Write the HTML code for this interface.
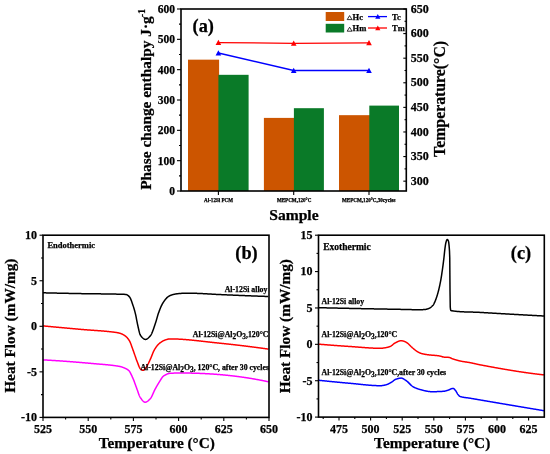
<!DOCTYPE html>
<html><head><meta charset="utf-8"><style>
html,body{margin:0;padding:0;background:#fff;}
svg{display:block;will-change:transform;}
text{font-family:"Liberation Serif", serif;font-weight:bold;fill:#000;stroke:#000;stroke-width:0.25px;}
</style></head><body>
<svg width="550" height="454" viewBox="0 0 550 454">
<rect width="550" height="454" fill="#fff"/>
<rect x="188.0" y="59.66" width="31.10" height="131.34" fill="#CC5500"/>
<rect x="218.4" y="74.82" width="30.20" height="116.18" fill="#0A7A28"/>
<rect x="263.9" y="117.90" width="30.70" height="73.10" fill="#CC5500"/>
<rect x="293.9" y="108.19" width="30.00" height="82.81" fill="#0A7A28"/>
<rect x="339.0" y="115.17" width="31.00" height="75.83" fill="#CC5500"/>
<rect x="369.3" y="105.61" width="29.70" height="85.39" fill="#0A7A28"/>
<line x1="177.00" y1="191.00" x2="181.00" y2="191.00" stroke="#000" stroke-width="1.1"/>
<text x="175.00" y="194.90" font-size="11.5" text-anchor="end" >0</text>
<line x1="177.00" y1="160.67" x2="181.00" y2="160.67" stroke="#000" stroke-width="1.1"/>
<text x="175.00" y="164.57" font-size="11.5" text-anchor="end" >100</text>
<line x1="177.00" y1="130.33" x2="181.00" y2="130.33" stroke="#000" stroke-width="1.1"/>
<text x="175.00" y="134.23" font-size="11.5" text-anchor="end" >200</text>
<line x1="177.00" y1="100.00" x2="181.00" y2="100.00" stroke="#000" stroke-width="1.1"/>
<text x="175.00" y="103.90" font-size="11.5" text-anchor="end" >300</text>
<line x1="177.00" y1="69.67" x2="181.00" y2="69.67" stroke="#000" stroke-width="1.1"/>
<text x="175.00" y="73.57" font-size="11.5" text-anchor="end" >400</text>
<line x1="177.00" y1="39.33" x2="181.00" y2="39.33" stroke="#000" stroke-width="1.1"/>
<text x="175.00" y="43.23" font-size="11.5" text-anchor="end" >500</text>
<line x1="177.00" y1="9.00" x2="181.00" y2="9.00" stroke="#000" stroke-width="1.1"/>
<text x="175.00" y="12.90" font-size="11.5" text-anchor="end" >600</text>
<line x1="179.00" y1="175.83" x2="181.00" y2="175.83" stroke="#000" stroke-width="1.1"/>
<line x1="179.00" y1="145.50" x2="181.00" y2="145.50" stroke="#000" stroke-width="1.1"/>
<line x1="179.00" y1="115.17" x2="181.00" y2="115.17" stroke="#000" stroke-width="1.1"/>
<line x1="179.00" y1="84.83" x2="181.00" y2="84.83" stroke="#000" stroke-width="1.1"/>
<line x1="179.00" y1="54.50" x2="181.00" y2="54.50" stroke="#000" stroke-width="1.1"/>
<line x1="179.00" y1="24.17" x2="181.00" y2="24.17" stroke="#000" stroke-width="1.1"/>
<line x1="403.30" y1="181.16" x2="406.30" y2="181.16" stroke="#000" stroke-width="1.1"/>
<text x="410.80" y="184.76" font-size="12" text-anchor="start" >300</text>
<line x1="403.30" y1="156.57" x2="406.30" y2="156.57" stroke="#000" stroke-width="1.1"/>
<text x="410.80" y="160.17" font-size="12" text-anchor="start" >350</text>
<line x1="403.30" y1="131.97" x2="406.30" y2="131.97" stroke="#000" stroke-width="1.1"/>
<text x="410.80" y="135.57" font-size="12" text-anchor="start" >400</text>
<line x1="403.30" y1="107.38" x2="406.30" y2="107.38" stroke="#000" stroke-width="1.1"/>
<text x="410.80" y="110.98" font-size="12" text-anchor="start" >450</text>
<line x1="403.30" y1="82.78" x2="406.30" y2="82.78" stroke="#000" stroke-width="1.1"/>
<text x="410.80" y="86.38" font-size="12" text-anchor="start" >500</text>
<line x1="403.30" y1="58.19" x2="406.30" y2="58.19" stroke="#000" stroke-width="1.1"/>
<text x="410.80" y="61.79" font-size="12" text-anchor="start" >550</text>
<line x1="403.30" y1="33.59" x2="406.30" y2="33.59" stroke="#000" stroke-width="1.1"/>
<text x="410.80" y="37.19" font-size="12" text-anchor="start" >600</text>
<line x1="403.30" y1="9.00" x2="406.30" y2="9.00" stroke="#000" stroke-width="1.1"/>
<text x="410.80" y="12.60" font-size="12" text-anchor="start" >650</text>
<line x1="404.50" y1="168.86" x2="406.30" y2="168.86" stroke="#000" stroke-width="1.1"/>
<line x1="404.50" y1="144.27" x2="406.30" y2="144.27" stroke="#000" stroke-width="1.1"/>
<line x1="404.50" y1="119.68" x2="406.30" y2="119.68" stroke="#000" stroke-width="1.1"/>
<line x1="404.50" y1="95.08" x2="406.30" y2="95.08" stroke="#000" stroke-width="1.1"/>
<line x1="404.50" y1="70.49" x2="406.30" y2="70.49" stroke="#000" stroke-width="1.1"/>
<line x1="404.50" y1="45.89" x2="406.30" y2="45.89" stroke="#000" stroke-width="1.1"/>
<line x1="404.50" y1="21.30" x2="406.30" y2="21.30" stroke="#000" stroke-width="1.1"/>
<line x1="218.40" y1="191.00" x2="218.40" y2="195.00" stroke="#000" stroke-width="1.1"/>
<line x1="293.70" y1="191.00" x2="293.70" y2="195.00" stroke="#000" stroke-width="1.1"/>
<line x1="369.00" y1="191.00" x2="369.00" y2="195.00" stroke="#000" stroke-width="1.1"/>
<polyline points="218.4,42.6 293.7,43.3 369.0,42.9" fill="none" stroke="#FF0000" stroke-width="1.35"/>
<polyline points="218.4,53.0 293.7,70.5 369.0,70.5" fill="none" stroke="#0000FF" stroke-width="1.35"/>
<path d="M215.60,44.98 L221.20,44.98 L218.40,39.80 Z" fill="#FF0000"/>
<path d="M290.90,45.68 L296.50,45.68 L293.70,40.50 Z" fill="#FF0000"/>
<path d="M366.20,45.28 L371.80,45.28 L369.00,40.10 Z" fill="#FF0000"/>
<path d="M215.60,55.38 L221.20,55.38 L218.40,50.20 Z" fill="#0000FF"/>
<path d="M290.90,72.88 L296.50,72.88 L293.70,67.70 Z" fill="#0000FF"/>
<path d="M366.20,72.88 L371.80,72.88 L369.00,67.70 Z" fill="#0000FF"/>
<rect x="181.0" y="9.0" width="225.3" height="182.0" fill="none" stroke="#000" stroke-width="1.6"/>
<rect x="325.7" y="12" width="18.5" height="9" fill="#CC5500"/>
<rect x="325.7" y="23.8" width="18.5" height="8.7" fill="#0A7A28"/>
<text x="352.60" y="19.80" font-size="8.5" text-anchor="start" >Hc</text>
<path d="M347.2,19.6 L352.0,19.6 L349.6,15.6 Z" fill="none" stroke="#000" stroke-width="0.8"/>
<text x="352.60" y="31.40" font-size="8.5" text-anchor="start" >Hm</text>
<path d="M347.2,31.2 L352.0,31.2 L349.6,27.2 Z" fill="none" stroke="#000" stroke-width="0.8"/>
<line x1="368.00" y1="16.60" x2="387.00" y2="16.60" stroke="#0000FF" stroke-width="1.3"/>
<path d="M375.20,18.81 L380.40,18.81 L377.80,14.00 Z" fill="#0000FF"/>
<line x1="368.00" y1="28.00" x2="387.00" y2="28.00" stroke="#FF0000" stroke-width="1.3"/>
<path d="M375.20,30.21 L380.40,30.21 L377.80,25.40 Z" fill="#FF0000"/>
<text x="392.00" y="19.80" font-size="8.5" text-anchor="start" >Tc</text>
<text x="392.00" y="31.40" font-size="8.5" text-anchor="start" >Tm</text>
<text x="192.60" y="31.60" font-size="18.3" text-anchor="start" >(a)</text>
<text x="218.60" y="201.60" font-size="5.1" text-anchor="middle" >Al-12Si PCM</text>
<text x="294.10" y="201.60" font-size="5.1" text-anchor="middle" >MEPCM,120&#176;C</text>
<text x="368.80" y="201.60" font-size="5.1" text-anchor="middle" >MEPCM,120&#176;C,30cycles</text>
<text x="293.90" y="219.80" font-size="15.6" text-anchor="middle" >Sample</text>
<text transform="translate(150.8,189.8) rotate(-90)" font-size="15.35">Phase change enthalpy J&#183;g<tspan font-size="9.4" dx="-0.6" dy="-5.6">-1</tspan></text>
<text transform="translate(445,156.9) rotate(-90)" font-size="15.8">Temperature(&#176;C)</text>
<line x1="39.50" y1="417.40" x2="43.00" y2="417.40" stroke="#000" stroke-width="1.1"/>
<text x="37.00" y="421.20" font-size="12" text-anchor="end" >-10</text>
<line x1="39.50" y1="371.85" x2="43.00" y2="371.85" stroke="#000" stroke-width="1.1"/>
<text x="37.00" y="375.65" font-size="12" text-anchor="end" >-5</text>
<line x1="39.50" y1="326.30" x2="43.00" y2="326.30" stroke="#000" stroke-width="1.1"/>
<text x="37.00" y="330.10" font-size="12" text-anchor="end" >0</text>
<line x1="39.50" y1="280.75" x2="43.00" y2="280.75" stroke="#000" stroke-width="1.1"/>
<text x="37.00" y="284.55" font-size="12" text-anchor="end" >5</text>
<line x1="39.50" y1="235.20" x2="43.00" y2="235.20" stroke="#000" stroke-width="1.1"/>
<text x="37.00" y="239.00" font-size="12" text-anchor="end" >10</text>
<line x1="41.00" y1="394.62" x2="43.00" y2="394.62" stroke="#000" stroke-width="1.1"/>
<line x1="41.00" y1="349.07" x2="43.00" y2="349.07" stroke="#000" stroke-width="1.1"/>
<line x1="41.00" y1="303.52" x2="43.00" y2="303.52" stroke="#000" stroke-width="1.1"/>
<line x1="41.00" y1="257.97" x2="43.00" y2="257.97" stroke="#000" stroke-width="1.1"/>
<line x1="43.00" y1="417.40" x2="43.00" y2="420.90" stroke="#000" stroke-width="1.1"/>
<text x="43.00" y="433.30" font-size="12" text-anchor="middle" >525</text>
<line x1="88.20" y1="417.40" x2="88.20" y2="420.90" stroke="#000" stroke-width="1.1"/>
<text x="88.20" y="433.30" font-size="12" text-anchor="middle" >550</text>
<line x1="133.40" y1="417.40" x2="133.40" y2="420.90" stroke="#000" stroke-width="1.1"/>
<text x="133.40" y="433.30" font-size="12" text-anchor="middle" >575</text>
<line x1="178.60" y1="417.40" x2="178.60" y2="420.90" stroke="#000" stroke-width="1.1"/>
<text x="178.60" y="433.30" font-size="12" text-anchor="middle" >600</text>
<line x1="223.80" y1="417.40" x2="223.80" y2="420.90" stroke="#000" stroke-width="1.1"/>
<text x="223.80" y="433.30" font-size="12" text-anchor="middle" >625</text>
<line x1="269.00" y1="417.40" x2="269.00" y2="420.90" stroke="#000" stroke-width="1.1"/>
<text x="269.00" y="433.30" font-size="12" text-anchor="middle" >650</text>
<line x1="65.60" y1="417.40" x2="65.60" y2="419.40" stroke="#000" stroke-width="1.1"/>
<line x1="110.80" y1="417.40" x2="110.80" y2="419.40" stroke="#000" stroke-width="1.1"/>
<line x1="156.00" y1="417.40" x2="156.00" y2="419.40" stroke="#000" stroke-width="1.1"/>
<line x1="201.20" y1="417.40" x2="201.20" y2="419.40" stroke="#000" stroke-width="1.1"/>
<line x1="246.40" y1="417.40" x2="246.40" y2="419.40" stroke="#000" stroke-width="1.1"/>
<path d="M43.00,292.80 L43.25,292.81 L43.50,292.81 L43.75,292.82 L44.00,292.82 L44.25,292.83 L44.50,292.84 L44.75,292.84 L45.00,292.85 L45.25,292.85 L45.50,292.86 L45.75,292.87 L46.00,292.87 L46.25,292.88 L46.50,292.88 L46.75,292.89 L47.00,292.90 L47.25,292.90 L47.50,292.91 L47.75,292.91 L48.00,292.92 L48.25,292.92 L48.50,292.93 L48.75,292.94 L49.00,292.94 L49.25,292.95 L49.50,292.95 L49.75,292.96 L50.00,292.97 L50.25,292.97 L50.50,292.98 L50.75,292.98 L51.00,292.99 L51.25,292.99 L51.50,293.00 L51.75,293.01 L52.00,293.01 L52.25,293.02 L52.50,293.02 L52.75,293.03 L53.00,293.04 L53.25,293.04 L53.50,293.05 L53.75,293.05 L54.00,293.06 L54.25,293.06 L54.50,293.07 L54.75,293.08 L55.00,293.08 L55.25,293.09 L55.50,293.09 L55.75,293.10 L56.00,293.10 L56.25,293.11 L56.50,293.11 L56.75,293.12 L57.00,293.13 L57.25,293.13 L57.50,293.14 L57.75,293.14 L58.00,293.15 L58.25,293.15 L58.50,293.16 L58.75,293.16 L59.00,293.17 L59.25,293.18 L59.50,293.18 L59.75,293.19 L60.00,293.19 L60.25,293.20 L60.50,293.20 L60.75,293.21 L61.00,293.21 L61.25,293.22 L61.50,293.23 L61.75,293.23 L62.00,293.24 L62.25,293.24 L62.50,293.25 L62.75,293.25 L63.00,293.26 L63.25,293.26 L63.50,293.27 L63.75,293.27 L64.00,293.28 L64.25,293.28 L64.50,293.29 L64.75,293.29 L65.00,293.30 L65.25,293.31 L65.50,293.31 L65.75,293.32 L66.00,293.32 L66.25,293.33 L66.50,293.33 L66.75,293.34 L67.00,293.34 L67.25,293.35 L67.50,293.35 L67.75,293.36 L68.00,293.36 L68.25,293.37 L68.50,293.37 L68.75,293.38 L69.00,293.38 L69.25,293.39 L69.50,293.39 L69.75,293.40 L70.00,293.40 L70.25,293.41 L70.50,293.41 L70.75,293.42 L71.00,293.42 L71.25,293.43 L71.50,293.43 L71.75,293.44 L72.00,293.44 L72.25,293.45 L72.50,293.45 L72.75,293.46 L73.00,293.46 L73.25,293.47 L73.50,293.47 L73.75,293.48 L74.00,293.48 L74.25,293.49 L74.50,293.49 L74.75,293.50 L75.00,293.50 L75.25,293.51 L75.50,293.51 L75.75,293.52 L76.00,293.52 L76.25,293.53 L76.50,293.53 L76.75,293.54 L77.00,293.54 L77.25,293.55 L77.50,293.55 L77.75,293.56 L78.00,293.56 L78.25,293.57 L78.50,293.57 L78.75,293.58 L79.00,293.58 L79.25,293.59 L79.50,293.59 L79.75,293.60 L80.00,293.60 L80.25,293.60 L80.50,293.61 L80.75,293.61 L81.00,293.62 L81.25,293.62 L81.50,293.63 L81.75,293.63 L82.00,293.64 L82.25,293.64 L82.50,293.64 L82.75,293.65 L83.00,293.65 L83.25,293.66 L83.50,293.66 L83.75,293.66 L84.00,293.67 L84.25,293.67 L84.50,293.68 L84.75,293.68 L85.00,293.68 L85.25,293.69 L85.50,293.69 L85.75,293.69 L86.00,293.70 L86.25,293.70 L86.50,293.70 L86.75,293.71 L87.00,293.71 L87.25,293.71 L87.50,293.72 L87.75,293.72 L88.00,293.72 L88.25,293.73 L88.50,293.73 L88.75,293.73 L89.00,293.74 L89.25,293.74 L89.50,293.74 L89.75,293.75 L90.00,293.75 L90.25,293.75 L90.50,293.76 L90.75,293.76 L91.00,293.76 L91.25,293.76 L91.50,293.77 L91.75,293.77 L92.00,293.77 L92.25,293.78 L92.50,293.78 L92.75,293.78 L93.00,293.79 L93.25,293.79 L93.50,293.79 L93.75,293.79 L94.00,293.80 L94.25,293.80 L94.50,293.80 L94.75,293.81 L95.00,293.81 L95.25,293.81 L95.50,293.81 L95.75,293.82 L96.00,293.82 L96.25,293.82 L96.50,293.82 L96.75,293.83 L97.00,293.83 L97.25,293.83 L97.50,293.84 L97.75,293.84 L98.00,293.84 L98.25,293.84 L98.50,293.85 L98.75,293.85 L99.00,293.85 L99.25,293.86 L99.50,293.86 L99.75,293.86 L100.00,293.86 L100.25,293.87 L100.50,293.87 L100.75,293.87 L101.00,293.88 L101.25,293.88 L101.50,293.88 L101.75,293.88 L102.00,293.89 L102.25,293.89 L102.50,293.89 L102.75,293.90 L103.00,293.90 L103.25,293.90 L103.50,293.91 L103.75,293.91 L104.00,293.91 L104.25,293.92 L104.50,293.92 L104.75,293.92 L105.00,293.93 L105.25,293.93 L105.50,293.93 L105.75,293.94 L106.00,293.94 L106.25,293.94 L106.50,293.95 L106.75,293.95 L107.00,293.95 L107.25,293.96 L107.50,293.96 L107.75,293.96 L108.00,293.97 L108.25,293.97 L108.50,293.98 L108.75,293.98 L109.00,293.98 L109.25,293.99 L109.50,293.99 L109.75,294.00 L110.00,294.00 L110.25,294.00 L110.50,294.01 L110.75,294.01 L111.00,294.02 L111.25,294.02 L111.50,294.03 L111.75,294.03 L112.00,294.04 L112.25,294.04 L112.50,294.04 L112.75,294.05 L113.00,294.05 L113.25,294.06 L113.50,294.06 L113.75,294.07 L114.00,294.07 L114.25,294.08 L114.50,294.08 L114.75,294.09 L115.00,294.09 L115.25,294.10 L115.50,294.11 L115.75,294.11 L116.00,294.12 L116.25,294.12 L116.50,294.13 L116.75,294.13 L117.00,294.14 L117.25,294.14 L117.50,294.15 L117.75,294.16 L118.00,294.16 L118.25,294.17 L118.50,294.18 L118.75,294.18 L119.00,294.19 L119.25,294.19 L119.50,294.20 L119.75,294.21 L120.00,294.21 L120.25,294.22 L120.50,294.23 L120.75,294.24 L121.00,294.24 L121.25,294.25 L121.50,294.26 L121.75,294.26 L122.00,294.27 L122.25,294.28 L122.50,294.29 L122.75,294.30 L123.00,294.30 L123.25,294.31 L123.50,294.32 L123.75,294.33 L124.00,294.34 L124.25,294.36 L124.50,294.37 L124.75,294.39 L125.00,294.40 L125.25,294.42 L125.50,294.45 L125.75,294.47 L126.00,294.50 L126.25,294.54 L126.50,294.61 L126.75,294.70 L127.00,294.82 L127.25,294.95 L127.50,295.11 L127.75,295.28 L128.00,295.47 L128.25,295.68 L128.50,295.90 L128.75,296.13 L129.00,296.38 L129.25,296.64 L129.50,296.90 L129.75,297.21 L130.00,297.59 L130.25,298.04 L130.50,298.56 L130.75,299.12 L131.00,299.73 L131.25,300.38 L131.50,301.06 L131.75,301.77 L132.00,302.49 L132.25,303.21 L132.50,303.94 L132.75,304.66 L133.00,305.38 L133.25,306.12 L133.50,306.89 L133.75,307.69 L134.00,308.51 L134.25,309.37 L134.50,310.25 L134.75,311.17 L135.00,312.11 L135.25,313.09 L135.50,314.10 L135.75,315.20 L136.00,316.41 L136.25,317.69 L136.50,319.03 L136.75,320.38 L137.00,321.70 L137.25,322.98 L137.50,324.16 L137.75,325.25 L138.00,326.37 L138.25,327.51 L138.50,328.65 L138.75,329.77 L139.00,330.84 L139.25,331.86 L139.50,332.81 L139.75,333.65 L140.00,334.38 L140.25,334.97 L140.50,335.40 L140.75,335.74 L141.00,336.08 L141.25,336.40 L141.50,336.71 L141.75,337.01 L142.00,337.29 L142.25,337.56 L142.50,337.81 L142.75,338.05 L143.00,338.27 L143.25,338.48 L143.50,338.66 L143.75,338.83 L144.00,338.98 L144.25,339.10 L144.50,339.21 L144.75,339.29 L145.00,339.35 L145.25,339.39 L145.50,339.40 L145.75,339.39 L146.00,339.35 L146.25,339.28 L146.50,339.19 L146.75,339.08 L147.00,338.95 L147.25,338.79 L147.50,338.62 L147.75,338.43 L148.00,338.23 L148.25,338.01 L148.50,337.78 L148.75,337.53 L149.00,337.28 L149.25,337.02 L149.50,336.74 L149.75,336.46 L150.00,336.18 L150.25,335.89 L150.50,335.60 L150.75,335.28 L151.00,334.90 L151.25,334.47 L151.50,334.00 L151.75,333.48 L152.00,332.92 L152.25,332.32 L152.50,331.69 L152.75,331.04 L153.00,330.35 L153.25,329.65 L153.50,328.93 L153.75,328.20 L154.00,327.46 L154.25,326.71 L154.50,325.96 L154.75,325.21 L155.00,324.47 L155.25,323.73 L155.50,323.01 L155.75,322.25 L156.00,321.44 L156.25,320.61 L156.50,319.75 L156.75,318.88 L157.00,318.00 L157.25,317.12 L157.50,316.25 L157.75,315.41 L158.00,314.59 L158.25,313.81 L158.50,313.08 L158.75,312.39 L159.00,311.71 L159.25,311.04 L159.50,310.38 L159.75,309.72 L160.00,309.08 L160.25,308.46 L160.50,307.84 L160.75,307.25 L161.00,306.67 L161.25,306.11 L161.50,305.57 L161.75,305.06 L162.00,304.57 L162.25,304.10 L162.50,303.67 L162.75,303.25 L163.00,302.85 L163.25,302.45 L163.50,302.07 L163.75,301.69 L164.00,301.32 L164.25,300.95 L164.50,300.60 L164.75,300.26 L165.00,299.92 L165.25,299.60 L165.50,299.29 L165.75,298.98 L166.00,298.69 L166.25,298.42 L166.50,298.15 L166.75,297.90 L167.00,297.65 L167.25,297.43 L167.50,297.21 L167.75,297.01 L168.00,296.83 L168.25,296.65 L168.50,296.48 L168.75,296.32 L169.00,296.17 L169.25,296.02 L169.50,295.88 L169.75,295.75 L170.00,295.63 L170.25,295.51 L170.50,295.40 L170.75,295.30 L171.00,295.20 L171.25,295.11 L171.50,295.02 L171.75,294.93 L172.00,294.85 L172.25,294.77 L172.50,294.69 L172.75,294.62 L173.00,294.55 L173.25,294.48 L173.50,294.42 L173.75,294.36 L174.00,294.30 L174.25,294.25 L174.50,294.20 L174.75,294.15 L175.00,294.11 L175.25,294.06 L175.50,294.02 L175.75,293.98 L176.00,293.94 L176.25,293.90 L176.50,293.86 L176.75,293.82 L177.00,293.79 L177.25,293.75 L177.50,293.72 L177.75,293.69 L178.00,293.66 L178.25,293.63 L178.50,293.61 L178.75,293.58 L179.00,293.56 L179.25,293.53 L179.50,293.51 L179.75,293.50 L180.00,293.48 L180.25,293.46 L180.50,293.44 L180.75,293.43 L181.00,293.41 L181.25,293.39 L181.50,293.37 L181.75,293.36 L182.00,293.34 L182.25,293.33 L182.50,293.31 L182.75,293.30 L183.00,293.29 L183.25,293.27 L183.50,293.26 L183.75,293.25 L184.00,293.24 L184.25,293.23 L184.50,293.22 L184.75,293.22 L185.00,293.21 L185.25,293.21 L185.50,293.20 L185.75,293.20 L186.00,293.20 L186.25,293.20 L186.50,293.20 L186.75,293.20 L187.00,293.20 L187.25,293.20 L187.50,293.20 L187.75,293.21 L188.00,293.21 L188.25,293.21 L188.50,293.21 L188.75,293.22 L189.00,293.22 L189.25,293.22 L189.50,293.22 L189.75,293.23 L190.00,293.23 L190.25,293.23 L190.50,293.24 L190.75,293.24 L191.00,293.25 L191.25,293.25 L191.50,293.25 L191.75,293.26 L192.00,293.26 L192.25,293.27 L192.50,293.27 L192.75,293.27 L193.00,293.28 L193.25,293.28 L193.50,293.29 L193.75,293.29 L194.00,293.30 L194.25,293.30 L194.50,293.31 L194.75,293.31 L195.00,293.32 L195.25,293.32 L195.50,293.33 L195.75,293.33 L196.00,293.34 L196.25,293.35 L196.50,293.35 L196.75,293.36 L197.00,293.37 L197.25,293.38 L197.50,293.39 L197.75,293.40 L198.00,293.40 L198.25,293.41 L198.50,293.42 L198.75,293.43 L199.00,293.44 L199.25,293.45 L199.50,293.46 L199.75,293.47 L200.00,293.48 L200.25,293.50 L200.50,293.51 L200.75,293.52 L201.00,293.53 L201.25,293.54 L201.50,293.55 L201.75,293.57 L202.00,293.58 L202.25,293.59 L202.50,293.60 L202.75,293.62 L203.00,293.63 L203.25,293.64 L203.50,293.66 L203.75,293.67 L204.00,293.68 L204.25,293.70 L204.50,293.71 L204.75,293.73 L205.00,293.74 L205.25,293.75 L205.50,293.77 L205.75,293.78 L206.00,293.80 L206.25,293.81 L206.50,293.83 L206.75,293.84 L207.00,293.86 L207.25,293.87 L207.50,293.89 L207.75,293.90 L208.00,293.92 L208.25,293.93 L208.50,293.95 L208.75,293.96 L209.00,293.98 L209.25,293.99 L209.50,294.01 L209.75,294.02 L210.00,294.04 L210.25,294.05 L210.50,294.07 L210.75,294.08 L211.00,294.10 L211.25,294.11 L211.50,294.12 L211.75,294.14 L212.00,294.15 L212.25,294.17 L212.50,294.18 L212.75,294.20 L213.00,294.21 L213.25,294.23 L213.50,294.24 L213.75,294.26 L214.00,294.27 L214.25,294.28 L214.50,294.30 L214.75,294.31 L215.00,294.33 L215.25,294.34 L215.50,294.35 L215.75,294.37 L216.00,294.38 L216.25,294.39 L216.50,294.40 L216.75,294.42 L217.00,294.43 L217.25,294.44 L217.50,294.45 L217.75,294.47 L218.00,294.48 L218.25,294.49 L218.50,294.50 L218.75,294.51 L219.00,294.52 L219.25,294.53 L219.50,294.54 L219.75,294.56 L220.00,294.57 L220.25,294.58 L220.50,294.59 L220.75,294.60 L221.00,294.61 L221.25,294.62 L221.50,294.63 L221.75,294.65 L222.00,294.66 L222.25,294.67 L222.50,294.68 L222.75,294.69 L223.00,294.70 L223.25,294.71 L223.50,294.72 L223.75,294.73 L224.00,294.74 L224.25,294.76 L224.50,294.77 L224.75,294.78 L225.00,294.79 L225.25,294.80 L225.50,294.81 L225.75,294.82 L226.00,294.83 L226.25,294.84 L226.50,294.85 L226.75,294.87 L227.00,294.88 L227.25,294.89 L227.50,294.90 L227.75,294.91 L228.00,294.92 L228.25,294.93 L228.50,294.94 L228.75,294.95 L229.00,294.96 L229.25,294.97 L229.50,294.99 L229.75,295.00 L230.00,295.01 L230.25,295.02 L230.50,295.03 L230.75,295.04 L231.00,295.05 L231.25,295.06 L231.50,295.07 L231.75,295.08 L232.00,295.09 L232.25,295.10 L232.50,295.11 L232.75,295.12 L233.00,295.14 L233.25,295.15 L233.50,295.16 L233.75,295.17 L234.00,295.18 L234.25,295.19 L234.50,295.20 L234.75,295.21 L235.00,295.22 L235.25,295.23 L235.50,295.24 L235.75,295.25 L236.00,295.26 L236.25,295.27 L236.50,295.28 L236.75,295.29 L237.00,295.30 L237.25,295.32 L237.50,295.33 L237.75,295.34 L238.00,295.35 L238.25,295.36 L238.50,295.37 L238.75,295.38 L239.00,295.39 L239.25,295.40 L239.50,295.41 L239.75,295.42 L240.00,295.43 L240.25,295.44 L240.50,295.45 L240.75,295.46 L241.00,295.47 L241.25,295.48 L241.50,295.49 L241.75,295.50 L242.00,295.51 L242.25,295.52 L242.50,295.53 L242.75,295.54 L243.00,295.55 L243.25,295.56 L243.50,295.57 L243.75,295.58 L244.00,295.59 L244.25,295.60 L244.50,295.61 L244.75,295.62 L245.00,295.63 L245.25,295.64 L245.50,295.65 L245.75,295.66 L246.00,295.67 L246.25,295.68 L246.50,295.69 L246.75,295.70 L247.00,295.71 L247.25,295.72 L247.50,295.73 L247.75,295.74 L248.00,295.75 L248.25,295.76 L248.50,295.77 L248.75,295.78 L249.00,295.79 L249.25,295.80 L249.50,295.81 L249.75,295.82 L250.00,295.83 L250.25,295.84 L250.50,295.85 L250.75,295.86 L251.00,295.87 L251.25,295.88 L251.50,295.89 L251.75,295.90 L252.00,295.91 L252.25,295.92 L252.50,295.93 L252.75,295.94 L253.00,295.95 L253.25,295.96 L253.50,295.97 L253.75,295.98 L254.00,295.99 L254.25,296.00 L254.50,296.01 L254.75,296.01 L255.00,296.02 L255.25,296.03 L255.50,296.04 L255.75,296.05 L256.00,296.06 L256.25,296.07 L256.50,296.08 L256.75,296.09 L257.00,296.10 L257.25,296.11 L257.50,296.12 L257.75,296.13 L258.00,296.14 L258.25,296.15 L258.50,296.16 L258.75,296.16 L259.00,296.17 L259.25,296.18 L259.50,296.19 L259.75,296.20 L260.00,296.21 L260.25,296.22 L260.50,296.23 L260.75,296.24 L261.00,296.25 L261.25,296.26 L261.50,296.26 L261.75,296.27 L262.00,296.28 L262.25,296.29 L262.50,296.30 L262.75,296.31 L263.00,296.32 L263.25,296.33 L263.50,296.34 L263.75,296.35 L264.00,296.35 L264.25,296.36 L264.50,296.37 L264.75,296.38 L265.00,296.39 L265.25,296.40 L265.50,296.41 L265.75,296.42 L266.00,296.42 L266.25,296.43 L266.50,296.44 L266.75,296.45 L267.00,296.46 L267.25,296.47 L267.50,296.48 L267.75,296.48 L268.00,296.49 L268.20,296.50" fill="none" stroke="#000000" stroke-width="1.5" stroke-linejoin="round"/>
<path d="M43.00,325.90 L43.25,325.92 L43.50,325.95 L43.75,325.97 L44.00,325.99 L44.25,326.02 L44.50,326.04 L44.75,326.06 L45.00,326.09 L45.25,326.11 L45.50,326.13 L45.75,326.16 L46.00,326.18 L46.25,326.20 L46.50,326.23 L46.75,326.25 L47.00,326.27 L47.25,326.30 L47.50,326.32 L47.75,326.34 L48.00,326.37 L48.25,326.39 L48.50,326.41 L48.75,326.44 L49.00,326.46 L49.25,326.48 L49.50,326.51 L49.75,326.53 L50.00,326.55 L50.25,326.58 L50.50,326.60 L50.75,326.62 L51.00,326.65 L51.25,326.67 L51.50,326.69 L51.75,326.72 L52.00,326.74 L52.25,326.76 L52.50,326.79 L52.75,326.81 L53.00,326.83 L53.25,326.86 L53.50,326.88 L53.75,326.90 L54.00,326.93 L54.25,326.95 L54.50,326.97 L54.75,327.00 L55.00,327.02 L55.25,327.04 L55.50,327.07 L55.75,327.09 L56.00,327.11 L56.25,327.13 L56.50,327.16 L56.75,327.18 L57.00,327.20 L57.25,327.23 L57.50,327.25 L57.75,327.27 L58.00,327.30 L58.25,327.32 L58.50,327.34 L58.75,327.37 L59.00,327.39 L59.25,327.41 L59.50,327.43 L59.75,327.46 L60.00,327.48 L60.25,327.50 L60.50,327.53 L60.75,327.55 L61.00,327.57 L61.25,327.60 L61.50,327.62 L61.75,327.64 L62.00,327.66 L62.25,327.69 L62.50,327.71 L62.75,327.73 L63.00,327.76 L63.25,327.78 L63.50,327.80 L63.75,327.83 L64.00,327.85 L64.25,327.87 L64.50,327.89 L64.75,327.92 L65.00,327.94 L65.25,327.96 L65.50,327.99 L65.75,328.01 L66.00,328.03 L66.25,328.05 L66.50,328.08 L66.75,328.10 L67.00,328.12 L67.25,328.15 L67.50,328.17 L67.75,328.19 L68.00,328.21 L68.25,328.24 L68.50,328.26 L68.75,328.28 L69.00,328.30 L69.25,328.33 L69.50,328.35 L69.75,328.37 L70.00,328.40 L70.25,328.42 L70.50,328.44 L70.75,328.46 L71.00,328.49 L71.25,328.51 L71.50,328.53 L71.75,328.55 L72.00,328.58 L72.25,328.60 L72.50,328.62 L72.75,328.65 L73.00,328.67 L73.25,328.69 L73.50,328.71 L73.75,328.74 L74.00,328.76 L74.25,328.78 L74.50,328.80 L74.75,328.83 L75.00,328.85 L75.25,328.87 L75.50,328.89 L75.75,328.92 L76.00,328.94 L76.25,328.96 L76.50,328.98 L76.75,329.01 L77.00,329.03 L77.25,329.05 L77.50,329.08 L77.75,329.10 L78.00,329.12 L78.25,329.14 L78.50,329.17 L78.75,329.19 L79.00,329.21 L79.25,329.23 L79.50,329.26 L79.75,329.28 L80.00,329.30 L80.25,329.32 L80.50,329.34 L80.75,329.37 L81.00,329.39 L81.25,329.41 L81.50,329.43 L81.75,329.45 L82.00,329.47 L82.25,329.49 L82.50,329.52 L82.75,329.54 L83.00,329.56 L83.25,329.58 L83.50,329.60 L83.75,329.62 L84.00,329.64 L84.25,329.66 L84.50,329.68 L84.75,329.69 L85.00,329.71 L85.25,329.73 L85.50,329.75 L85.75,329.77 L86.00,329.79 L86.25,329.81 L86.50,329.83 L86.75,329.85 L87.00,329.86 L87.25,329.88 L87.50,329.90 L87.75,329.92 L88.00,329.94 L88.25,329.96 L88.50,329.97 L88.75,329.99 L89.00,330.01 L89.25,330.03 L89.50,330.04 L89.75,330.06 L90.00,330.08 L90.25,330.10 L90.50,330.11 L90.75,330.13 L91.00,330.15 L91.25,330.17 L91.50,330.18 L91.75,330.20 L92.00,330.22 L92.25,330.24 L92.50,330.25 L92.75,330.27 L93.00,330.29 L93.25,330.31 L93.50,330.32 L93.75,330.34 L94.00,330.36 L94.25,330.38 L94.50,330.39 L94.75,330.41 L95.00,330.43 L95.25,330.45 L95.50,330.46 L95.75,330.48 L96.00,330.50 L96.25,330.52 L96.50,330.54 L96.75,330.55 L97.00,330.57 L97.25,330.59 L97.50,330.61 L97.75,330.63 L98.00,330.64 L98.25,330.66 L98.50,330.68 L98.75,330.70 L99.00,330.72 L99.25,330.74 L99.50,330.76 L99.75,330.77 L100.00,330.79 L100.25,330.81 L100.50,330.83 L100.75,330.85 L101.00,330.87 L101.25,330.89 L101.50,330.91 L101.75,330.93 L102.00,330.95 L102.25,330.97 L102.50,330.99 L102.75,331.01 L103.00,331.03 L103.25,331.05 L103.50,331.08 L103.75,331.10 L104.00,331.12 L104.25,331.14 L104.50,331.16 L104.75,331.18 L105.00,331.21 L105.25,331.23 L105.50,331.25 L105.75,331.27 L106.00,331.30 L106.25,331.32 L106.50,331.34 L106.75,331.37 L107.00,331.39 L107.25,331.42 L107.50,331.44 L107.75,331.47 L108.00,331.49 L108.25,331.52 L108.50,331.54 L108.75,331.57 L109.00,331.59 L109.25,331.62 L109.50,331.65 L109.75,331.67 L110.00,331.70 L110.25,331.73 L110.50,331.76 L110.75,331.78 L111.00,331.81 L111.25,331.84 L111.50,331.87 L111.75,331.90 L112.00,331.93 L112.25,331.96 L112.50,331.99 L112.75,332.02 L113.00,332.05 L113.25,332.08 L113.50,332.11 L113.75,332.14 L114.00,332.17 L114.25,332.21 L114.50,332.24 L114.75,332.27 L115.00,332.31 L115.25,332.34 L115.50,332.37 L115.75,332.41 L116.00,332.44 L116.25,332.48 L116.50,332.51 L116.75,332.55 L117.00,332.59 L117.25,332.64 L117.50,332.68 L117.75,332.73 L118.00,332.78 L118.25,332.84 L118.50,332.90 L118.75,332.96 L119.00,333.02 L119.25,333.09 L119.50,333.15 L119.75,333.23 L120.00,333.30 L120.25,333.38 L120.50,333.46 L120.75,333.55 L121.00,333.64 L121.25,333.74 L121.50,333.84 L121.75,333.95 L122.00,334.06 L122.25,334.18 L122.50,334.30 L122.75,334.42 L123.00,334.56 L123.25,334.69 L123.50,334.83 L123.75,334.98 L124.00,335.13 L124.25,335.29 L124.50,335.45 L124.75,335.62 L125.00,335.79 L125.25,335.96 L125.50,336.15 L125.75,336.35 L126.00,336.56 L126.25,336.78 L126.50,337.02 L126.75,337.27 L127.00,337.53 L127.25,337.81 L127.50,338.10 L127.75,338.41 L128.00,338.72 L128.25,339.06 L128.50,339.40 L128.75,339.76 L129.00,340.13 L129.25,340.52 L129.50,340.93 L129.75,341.40 L130.00,341.92 L130.25,342.47 L130.50,343.07 L130.75,343.69 L131.00,344.35 L131.25,345.03 L131.50,345.72 L131.75,346.43 L132.00,347.14 L132.25,347.85 L132.50,348.57 L132.75,349.27 L133.00,349.96 L133.25,350.63 L133.50,351.31 L133.75,352.01 L134.00,352.71 L134.25,353.43 L134.50,354.15 L134.75,354.88 L135.00,355.62 L135.25,356.35 L135.50,357.07 L135.75,357.79 L136.00,358.50 L136.25,359.20 L136.50,359.89 L136.75,360.55 L137.00,361.20 L137.25,361.82 L137.50,362.46 L137.75,363.12 L138.00,363.79 L138.25,364.47 L138.50,365.13 L138.75,365.78 L139.00,366.41 L139.25,366.99 L139.50,367.53 L139.75,368.01 L140.00,368.42 L140.25,368.75 L140.50,369.00 L140.75,369.20 L141.00,369.39 L141.25,369.56 L141.50,369.73 L141.75,369.88 L142.00,370.01 L142.25,370.12 L142.50,370.21 L142.75,370.27 L143.00,370.30 L143.25,370.29 L143.50,370.22 L143.75,370.10 L144.00,369.93 L144.25,369.72 L144.50,369.47 L144.75,369.19 L145.00,368.89 L145.25,368.56 L145.50,368.23 L145.75,367.88 L146.00,367.54 L146.25,367.20 L146.50,366.87 L146.75,366.51 L147.00,366.11 L147.25,365.69 L147.50,365.24 L147.75,364.77 L148.00,364.28 L148.25,363.77 L148.50,363.25 L148.75,362.71 L149.00,362.17 L149.25,361.62 L149.50,361.07 L149.75,360.52 L150.00,359.97 L150.25,359.42 L150.50,358.88 L150.75,358.32 L151.00,357.74 L151.25,357.13 L151.50,356.51 L151.75,355.87 L152.00,355.23 L152.25,354.60 L152.50,353.96 L152.75,353.34 L153.00,352.72 L153.25,352.13 L153.50,351.56 L153.75,351.03 L154.00,350.52 L154.25,350.06 L154.50,349.63 L154.75,349.22 L155.00,348.82 L155.25,348.43 L155.50,348.04 L155.75,347.66 L156.00,347.30 L156.25,346.94 L156.50,346.59 L156.75,346.25 L157.00,345.92 L157.25,345.60 L157.50,345.29 L157.75,345.00 L158.00,344.71 L158.25,344.44 L158.50,344.18 L158.75,343.93 L159.00,343.70 L159.25,343.48 L159.50,343.28 L159.75,343.09 L160.00,342.90 L160.25,342.71 L160.50,342.53 L160.75,342.36 L161.00,342.18 L161.25,342.01 L161.50,341.85 L161.75,341.69 L162.00,341.53 L162.25,341.38 L162.50,341.23 L162.75,341.09 L163.00,340.95 L163.25,340.82 L163.50,340.69 L163.75,340.57 L164.00,340.45 L164.25,340.33 L164.50,340.23 L164.75,340.12 L165.00,340.02 L165.25,339.93 L165.50,339.84 L165.75,339.76 L166.00,339.68 L166.25,339.61 L166.50,339.55 L166.75,339.48 L167.00,339.41 L167.25,339.34 L167.50,339.28 L167.75,339.22 L168.00,339.16 L168.25,339.10 L168.50,339.06 L168.75,339.01 L169.00,338.97 L169.25,338.94 L169.50,338.92 L169.75,338.90 L170.00,338.90 L170.25,338.90 L170.50,338.90 L170.75,338.90 L171.00,338.90 L171.25,338.91 L171.50,338.91 L171.75,338.91 L172.00,338.91 L172.25,338.92 L172.50,338.92 L172.75,338.92 L173.00,338.93 L173.25,338.93 L173.50,338.94 L173.75,338.94 L174.00,338.95 L174.25,338.96 L174.50,338.96 L174.75,338.97 L175.00,338.98 L175.25,338.99 L175.50,338.99 L175.75,339.00 L176.00,339.01 L176.25,339.02 L176.50,339.03 L176.75,339.04 L177.00,339.05 L177.25,339.06 L177.50,339.07 L177.75,339.08 L178.00,339.09 L178.25,339.10 L178.50,339.12 L178.75,339.13 L179.00,339.14 L179.25,339.15 L179.50,339.17 L179.75,339.18 L180.00,339.19 L180.25,339.21 L180.50,339.22 L180.75,339.24 L181.00,339.25 L181.25,339.27 L181.50,339.28 L181.75,339.30 L182.00,339.32 L182.25,339.33 L182.50,339.35 L182.75,339.37 L183.00,339.38 L183.25,339.40 L183.50,339.42 L183.75,339.44 L184.00,339.45 L184.25,339.47 L184.50,339.49 L184.75,339.51 L185.00,339.53 L185.25,339.55 L185.50,339.57 L185.75,339.59 L186.00,339.61 L186.25,339.63 L186.50,339.65 L186.75,339.67 L187.00,339.69 L187.25,339.71 L187.50,339.73 L187.75,339.75 L188.00,339.78 L188.25,339.80 L188.50,339.82 L188.75,339.84 L189.00,339.86 L189.25,339.89 L189.50,339.91 L189.75,339.93 L190.00,339.96 L190.25,339.98 L190.50,340.00 L190.75,340.03 L191.00,340.05 L191.25,340.08 L191.50,340.10 L191.75,340.12 L192.00,340.15 L192.25,340.17 L192.50,340.20 L192.75,340.22 L193.00,340.25 L193.25,340.27 L193.50,340.30 L193.75,340.32 L194.00,340.35 L194.25,340.38 L194.50,340.40 L194.75,340.43 L195.00,340.45 L195.25,340.48 L195.50,340.51 L195.75,340.53 L196.00,340.56 L196.25,340.59 L196.50,340.61 L196.75,340.64 L197.00,340.67 L197.25,340.70 L197.50,340.72 L197.75,340.75 L198.00,340.78 L198.25,340.81 L198.50,340.83 L198.75,340.86 L199.00,340.89 L199.25,340.92 L199.50,340.94 L199.75,340.97 L200.00,341.00 L200.25,341.03 L200.50,341.06 L200.75,341.08 L201.00,341.11 L201.25,341.14 L201.50,341.17 L201.75,341.20 L202.00,341.23 L202.25,341.25 L202.50,341.28 L202.75,341.31 L203.00,341.34 L203.25,341.37 L203.50,341.40 L203.75,341.43 L204.00,341.46 L204.25,341.48 L204.50,341.51 L204.75,341.54 L205.00,341.57 L205.25,341.60 L205.50,341.63 L205.75,341.66 L206.00,341.68 L206.25,341.71 L206.50,341.74 L206.75,341.77 L207.00,341.80 L207.25,341.83 L207.50,341.86 L207.75,341.89 L208.00,341.91 L208.25,341.94 L208.50,341.97 L208.75,342.00 L209.00,342.03 L209.25,342.06 L209.50,342.08 L209.75,342.11 L210.00,342.14 L210.25,342.17 L210.50,342.20 L210.75,342.23 L211.00,342.25 L211.25,342.28 L211.50,342.31 L211.75,342.34 L212.00,342.36 L212.25,342.39 L212.50,342.42 L212.75,342.45 L213.00,342.47 L213.25,342.50 L213.50,342.53 L213.75,342.56 L214.00,342.58 L214.25,342.61 L214.50,342.64 L214.75,342.66 L215.00,342.69 L215.25,342.72 L215.50,342.74 L215.75,342.77 L216.00,342.80 L216.25,342.82 L216.50,342.85 L216.75,342.87 L217.00,342.90 L217.25,342.92 L217.50,342.95 L217.75,342.97 L218.00,343.00 L218.25,343.03 L218.50,343.05 L218.75,343.08 L219.00,343.10 L219.25,343.13 L219.50,343.15 L219.75,343.18 L220.00,343.20 L220.25,343.23 L220.50,343.25 L220.75,343.28 L221.00,343.30 L221.25,343.33 L221.50,343.36 L221.75,343.38 L222.00,343.41 L222.25,343.43 L222.50,343.46 L222.75,343.49 L223.00,343.51 L223.25,343.54 L223.50,343.56 L223.75,343.59 L224.00,343.62 L224.25,343.64 L224.50,343.67 L224.75,343.70 L225.00,343.72 L225.25,343.75 L225.50,343.78 L225.75,343.80 L226.00,343.83 L226.25,343.86 L226.50,343.88 L226.75,343.91 L227.00,343.94 L227.25,343.96 L227.50,343.99 L227.75,344.02 L228.00,344.04 L228.25,344.07 L228.50,344.10 L228.75,344.13 L229.00,344.15 L229.25,344.18 L229.50,344.21 L229.75,344.24 L230.00,344.26 L230.25,344.29 L230.50,344.32 L230.75,344.35 L231.00,344.38 L231.25,344.40 L231.50,344.43 L231.75,344.46 L232.00,344.49 L232.25,344.52 L232.50,344.54 L232.75,344.57 L233.00,344.60 L233.25,344.63 L233.50,344.66 L233.75,344.69 L234.00,344.71 L234.25,344.74 L234.50,344.77 L234.75,344.80 L235.00,344.83 L235.25,344.86 L235.50,344.89 L235.75,344.91 L236.00,344.94 L236.25,344.97 L236.50,345.00 L236.75,345.03 L237.00,345.06 L237.25,345.09 L237.50,345.12 L237.75,345.15 L238.00,345.18 L238.25,345.21 L238.50,345.24 L238.75,345.27 L239.00,345.29 L239.25,345.32 L239.50,345.35 L239.75,345.38 L240.00,345.41 L240.25,345.44 L240.50,345.47 L240.75,345.50 L241.00,345.53 L241.25,345.56 L241.50,345.59 L241.75,345.62 L242.00,345.65 L242.25,345.68 L242.50,345.71 L242.75,345.74 L243.00,345.77 L243.25,345.80 L243.50,345.83 L243.75,345.86 L244.00,345.90 L244.25,345.93 L244.50,345.96 L244.75,345.99 L245.00,346.02 L245.25,346.05 L245.50,346.08 L245.75,346.11 L246.00,346.14 L246.25,346.17 L246.50,346.20 L246.75,346.23 L247.00,346.26 L247.25,346.30 L247.50,346.33 L247.75,346.36 L248.00,346.39 L248.25,346.42 L248.50,346.45 L248.75,346.48 L249.00,346.51 L249.25,346.55 L249.50,346.58 L249.75,346.61 L250.00,346.64 L250.25,346.67 L250.50,346.70 L250.75,346.74 L251.00,346.77 L251.25,346.80 L251.50,346.83 L251.75,346.86 L252.00,346.90 L252.25,346.93 L252.50,346.96 L252.75,346.99 L253.00,347.02 L253.25,347.06 L253.50,347.09 L253.75,347.12 L254.00,347.15 L254.25,347.19 L254.50,347.22 L254.75,347.25 L255.00,347.28 L255.25,347.32 L255.50,347.35 L255.75,347.38 L256.00,347.41 L256.25,347.45 L256.50,347.48 L256.75,347.51 L257.00,347.54 L257.25,347.58 L257.50,347.61 L257.75,347.64 L258.00,347.68 L258.25,347.71 L258.50,347.74 L258.75,347.78 L259.00,347.81 L259.25,347.84 L259.50,347.88 L259.75,347.91 L260.00,347.94 L260.25,347.98 L260.50,348.01 L260.75,348.04 L261.00,348.08 L261.25,348.11 L261.50,348.14 L261.75,348.18 L262.00,348.21 L262.25,348.24 L262.50,348.28 L262.75,348.31 L263.00,348.35 L263.25,348.38 L263.50,348.41 L263.75,348.45 L264.00,348.48 L264.25,348.52 L264.50,348.55 L264.75,348.58 L265.00,348.62 L265.25,348.65 L265.50,348.69 L265.75,348.72 L266.00,348.75 L266.25,348.79 L266.50,348.82 L266.75,348.86 L267.00,348.89 L267.25,348.93 L267.50,348.96 L267.75,349.00 L268.00,349.03 L268.25,349.07 L268.50,349.10" fill="none" stroke="#FF0000" stroke-width="1.5" stroke-linejoin="round"/>
<path d="M43.00,359.90 L43.25,359.91 L43.50,359.93 L43.75,359.94 L44.00,359.95 L44.25,359.96 L44.50,359.98 L44.75,359.99 L45.00,360.00 L45.25,360.01 L45.50,360.03 L45.75,360.04 L46.00,360.05 L46.25,360.07 L46.50,360.08 L46.75,360.09 L47.00,360.11 L47.25,360.12 L47.50,360.14 L47.75,360.15 L48.00,360.16 L48.25,360.18 L48.50,360.19 L48.75,360.21 L49.00,360.22 L49.25,360.23 L49.50,360.25 L49.75,360.26 L50.00,360.28 L50.25,360.29 L50.50,360.31 L50.75,360.32 L51.00,360.34 L51.25,360.35 L51.50,360.37 L51.75,360.38 L52.00,360.40 L52.25,360.41 L52.50,360.43 L52.75,360.44 L53.00,360.46 L53.25,360.47 L53.50,360.49 L53.75,360.50 L54.00,360.52 L54.25,360.53 L54.50,360.55 L54.75,360.56 L55.00,360.58 L55.25,360.60 L55.50,360.61 L55.75,360.63 L56.00,360.64 L56.25,360.66 L56.50,360.68 L56.75,360.69 L57.00,360.71 L57.25,360.72 L57.50,360.74 L57.75,360.76 L58.00,360.77 L58.25,360.79 L58.50,360.81 L58.75,360.82 L59.00,360.84 L59.25,360.86 L59.50,360.87 L59.75,360.89 L60.00,360.91 L60.25,360.93 L60.50,360.94 L60.75,360.96 L61.00,360.98 L61.25,360.99 L61.50,361.01 L61.75,361.03 L62.00,361.05 L62.25,361.06 L62.50,361.08 L62.75,361.10 L63.00,361.12 L63.25,361.13 L63.50,361.15 L63.75,361.17 L64.00,361.19 L64.25,361.21 L64.50,361.22 L64.75,361.24 L65.00,361.26 L65.25,361.28 L65.50,361.30 L65.75,361.32 L66.00,361.33 L66.25,361.35 L66.50,361.37 L66.75,361.39 L67.00,361.41 L67.25,361.43 L67.50,361.44 L67.75,361.46 L68.00,361.48 L68.25,361.50 L68.50,361.52 L68.75,361.54 L69.00,361.56 L69.25,361.58 L69.50,361.60 L69.75,361.61 L70.00,361.63 L70.25,361.65 L70.50,361.67 L70.75,361.69 L71.00,361.71 L71.25,361.73 L71.50,361.75 L71.75,361.77 L72.00,361.79 L72.25,361.81 L72.50,361.83 L72.75,361.85 L73.00,361.87 L73.25,361.89 L73.50,361.91 L73.75,361.93 L74.00,361.95 L74.25,361.97 L74.50,361.99 L74.75,362.01 L75.00,362.03 L75.25,362.05 L75.50,362.07 L75.75,362.09 L76.00,362.11 L76.25,362.13 L76.50,362.15 L76.75,362.17 L77.00,362.19 L77.25,362.21 L77.50,362.23 L77.75,362.25 L78.00,362.27 L78.25,362.29 L78.50,362.31 L78.75,362.33 L79.00,362.35 L79.25,362.37 L79.50,362.39 L79.75,362.42 L80.00,362.44 L80.25,362.46 L80.50,362.48 L80.75,362.50 L81.00,362.52 L81.25,362.54 L81.50,362.56 L81.75,362.58 L82.00,362.60 L82.25,362.63 L82.50,362.65 L82.75,362.67 L83.00,362.69 L83.25,362.71 L83.50,362.73 L83.75,362.75 L84.00,362.77 L84.25,362.80 L84.50,362.82 L84.75,362.84 L85.00,362.86 L85.25,362.88 L85.50,362.90 L85.75,362.93 L86.00,362.95 L86.25,362.97 L86.50,362.99 L86.75,363.01 L87.00,363.03 L87.25,363.06 L87.50,363.08 L87.75,363.10 L88.00,363.12 L88.25,363.14 L88.50,363.17 L88.75,363.19 L89.00,363.21 L89.25,363.23 L89.50,363.25 L89.75,363.28 L90.00,363.30 L90.25,363.32 L90.50,363.34 L90.75,363.36 L91.00,363.39 L91.25,363.41 L91.50,363.43 L91.75,363.45 L92.00,363.48 L92.25,363.50 L92.50,363.52 L92.75,363.54 L93.00,363.57 L93.25,363.59 L93.50,363.61 L93.75,363.63 L94.00,363.65 L94.25,363.68 L94.50,363.70 L94.75,363.72 L95.00,363.74 L95.25,363.77 L95.50,363.79 L95.75,363.81 L96.00,363.83 L96.25,363.85 L96.50,363.88 L96.75,363.90 L97.00,363.92 L97.25,363.94 L97.50,363.96 L97.75,363.98 L98.00,364.00 L98.25,364.02 L98.50,364.04 L98.75,364.06 L99.00,364.08 L99.25,364.10 L99.50,364.13 L99.75,364.15 L100.00,364.17 L100.25,364.19 L100.50,364.21 L100.75,364.23 L101.00,364.25 L101.25,364.27 L101.50,364.29 L101.75,364.31 L102.00,364.33 L102.25,364.35 L102.50,364.37 L102.75,364.39 L103.00,364.41 L103.25,364.44 L103.50,364.46 L103.75,364.48 L104.00,364.50 L104.25,364.52 L104.50,364.54 L104.75,364.56 L105.00,364.59 L105.25,364.61 L105.50,364.63 L105.75,364.65 L106.00,364.68 L106.25,364.70 L106.50,364.72 L106.75,364.75 L107.00,364.77 L107.25,364.79 L107.50,364.82 L107.75,364.84 L108.00,364.87 L108.25,364.89 L108.50,364.92 L108.75,364.94 L109.00,364.97 L109.25,364.99 L109.50,365.02 L109.75,365.04 L110.00,365.07 L110.25,365.10 L110.50,365.13 L110.75,365.15 L111.00,365.18 L111.25,365.21 L111.50,365.24 L111.75,365.27 L112.00,365.30 L112.25,365.33 L112.50,365.36 L112.75,365.39 L113.00,365.42 L113.25,365.45 L113.50,365.49 L113.75,365.52 L114.00,365.55 L114.25,365.58 L114.50,365.62 L114.75,365.65 L115.00,365.69 L115.25,365.72 L115.50,365.76 L115.75,365.80 L116.00,365.83 L116.25,365.87 L116.50,365.91 L116.75,365.95 L117.00,365.99 L117.25,366.02 L117.50,366.07 L117.75,366.11 L118.00,366.15 L118.25,366.19 L118.50,366.23 L118.75,366.27 L119.00,366.32 L119.25,366.36 L119.50,366.41 L119.75,366.45 L120.00,366.50 L120.25,366.55 L120.50,366.60 L120.75,366.67 L121.00,366.73 L121.25,366.80 L121.50,366.88 L121.75,366.95 L122.00,367.04 L122.25,367.12 L122.50,367.21 L122.75,367.31 L123.00,367.40 L123.25,367.50 L123.50,367.60 L123.75,367.70 L124.00,367.80 L124.25,367.90 L124.50,368.01 L124.75,368.11 L125.00,368.22 L125.25,368.33 L125.50,368.45 L125.75,368.57 L126.00,368.69 L126.25,368.82 L126.50,368.95 L126.75,369.10 L127.00,369.25 L127.25,369.40 L127.50,369.57 L127.75,369.74 L128.00,369.93 L128.25,370.12 L128.50,370.33 L128.75,370.55 L129.00,370.80 L129.25,371.09 L129.50,371.42 L129.75,371.79 L130.00,372.20 L130.25,372.63 L130.50,373.09 L130.75,373.57 L131.00,374.07 L131.25,374.59 L131.50,375.13 L131.75,375.68 L132.00,376.23 L132.25,376.79 L132.50,377.36 L132.75,377.92 L133.00,378.48 L133.25,379.04 L133.50,379.63 L133.75,380.25 L134.00,380.89 L134.25,381.56 L134.50,382.24 L134.75,382.93 L135.00,383.63 L135.25,384.34 L135.50,385.04 L135.75,385.74 L136.00,386.43 L136.25,387.10 L136.50,387.76 L136.75,388.45 L137.00,389.15 L137.25,389.88 L137.50,390.61 L137.75,391.35 L138.00,392.08 L138.25,392.81 L138.50,393.51 L138.75,394.19 L139.00,394.84 L139.25,395.45 L139.50,396.02 L139.75,396.53 L140.00,396.98 L140.25,397.37 L140.50,397.74 L140.75,398.11 L141.00,398.47 L141.25,398.83 L141.50,399.18 L141.75,399.52 L142.00,399.86 L142.25,400.17 L142.50,400.48 L142.75,400.76 L143.00,401.03 L143.25,401.27 L143.50,401.49 L143.75,401.68 L144.00,401.85 L144.25,401.99 L144.50,402.09 L144.75,402.16 L145.00,402.20 L145.25,402.20 L145.50,402.17 L145.75,402.12 L146.00,402.05 L146.25,401.96 L146.50,401.85 L146.75,401.72 L147.00,401.58 L147.25,401.42 L147.50,401.24 L147.75,401.05 L148.00,400.85 L148.25,400.64 L148.50,400.42 L148.75,400.18 L149.00,399.94 L149.25,399.70 L149.50,399.45 L149.75,399.19 L150.00,398.93 L150.25,398.66 L150.50,398.40 L150.75,398.11 L151.00,397.76 L151.25,397.37 L151.50,396.94 L151.75,396.47 L152.00,395.96 L152.25,395.44 L152.50,394.89 L152.75,394.32 L153.00,393.75 L153.25,393.17 L153.50,392.59 L153.75,392.02 L154.00,391.45 L154.25,390.91 L154.50,390.38 L154.75,389.88 L155.00,389.41 L155.25,388.95 L155.50,388.49 L155.75,388.04 L156.00,387.58 L156.25,387.13 L156.50,386.69 L156.75,386.24 L157.00,385.80 L157.25,385.37 L157.50,384.94 L157.75,384.51 L158.00,384.09 L158.25,383.68 L158.50,383.27 L158.75,382.86 L159.00,382.47 L159.25,382.08 L159.50,381.69 L159.75,381.29 L160.00,380.88 L160.25,380.47 L160.50,380.06 L160.75,379.64 L161.00,379.24 L161.25,378.84 L161.50,378.45 L161.75,378.07 L162.00,377.71 L162.25,377.37 L162.50,377.05 L162.75,376.76 L163.00,376.50 L163.25,376.27 L163.50,376.07 L163.75,375.90 L164.00,375.74 L164.25,375.58 L164.50,375.43 L164.75,375.28 L165.00,375.13 L165.25,374.99 L165.50,374.85 L165.75,374.71 L166.00,374.58 L166.25,374.46 L166.50,374.34 L166.75,374.22 L167.00,374.11 L167.25,374.01 L167.50,373.91 L167.75,373.82 L168.00,373.74 L168.25,373.66 L168.50,373.59 L168.75,373.52 L169.00,373.47 L169.25,373.42 L169.50,373.37 L169.75,373.34 L170.00,373.31 L170.25,373.30 L170.50,373.28 L170.75,373.27 L171.00,373.25 L171.25,373.24 L171.50,373.23 L171.75,373.21 L172.00,373.20 L172.25,373.19 L172.50,373.18 L172.75,373.17 L173.00,373.15 L173.25,373.14 L173.50,373.13 L173.75,373.12 L174.00,373.11 L174.25,373.10 L174.50,373.10 L174.75,373.09 L175.00,373.08 L175.25,373.07 L175.50,373.06 L175.75,373.06 L176.00,373.05 L176.25,373.04 L176.50,373.04 L176.75,373.03 L177.00,373.03 L177.25,373.02 L177.50,373.02 L177.75,373.02 L178.00,373.01 L178.25,373.01 L178.50,373.01 L178.75,373.01 L179.00,373.00 L179.25,373.00 L179.50,373.00 L179.75,373.00 L180.00,373.00 L180.25,373.00 L180.50,373.00 L180.75,373.00 L181.00,373.00 L181.25,373.00 L181.50,373.00 L181.75,373.00 L182.00,373.00 L182.25,373.00 L182.50,373.01 L182.75,373.01 L183.00,373.01 L183.25,373.01 L183.50,373.01 L183.75,373.01 L184.00,373.01 L184.25,373.02 L184.50,373.02 L184.75,373.02 L185.00,373.02 L185.25,373.03 L185.50,373.03 L185.75,373.03 L186.00,373.03 L186.25,373.04 L186.50,373.04 L186.75,373.04 L187.00,373.05 L187.25,373.05 L187.50,373.05 L187.75,373.06 L188.00,373.06 L188.25,373.06 L188.50,373.07 L188.75,373.07 L189.00,373.08 L189.25,373.08 L189.50,373.09 L189.75,373.09 L190.00,373.09 L190.25,373.10 L190.50,373.10 L190.75,373.11 L191.00,373.11 L191.25,373.12 L191.50,373.13 L191.75,373.13 L192.00,373.14 L192.25,373.14 L192.50,373.15 L192.75,373.15 L193.00,373.16 L193.25,373.17 L193.50,373.17 L193.75,373.18 L194.00,373.19 L194.25,373.19 L194.50,373.20 L194.75,373.21 L195.00,373.22 L195.25,373.22 L195.50,373.23 L195.75,373.24 L196.00,373.25 L196.25,373.25 L196.50,373.26 L196.75,373.27 L197.00,373.28 L197.25,373.29 L197.50,373.30 L197.75,373.30 L198.00,373.31 L198.25,373.32 L198.50,373.33 L198.75,373.34 L199.00,373.35 L199.25,373.36 L199.50,373.37 L199.75,373.38 L200.00,373.39 L200.25,373.40 L200.50,373.41 L200.75,373.42 L201.00,373.43 L201.25,373.44 L201.50,373.45 L201.75,373.46 L202.00,373.47 L202.25,373.48 L202.50,373.49 L202.75,373.50 L203.00,373.52 L203.25,373.53 L203.50,373.54 L203.75,373.55 L204.00,373.56 L204.25,373.58 L204.50,373.59 L204.75,373.60 L205.00,373.61 L205.25,373.63 L205.50,373.64 L205.75,373.65 L206.00,373.66 L206.25,373.68 L206.50,373.69 L206.75,373.70 L207.00,373.72 L207.25,373.73 L207.50,373.75 L207.75,373.76 L208.00,373.77 L208.25,373.79 L208.50,373.80 L208.75,373.82 L209.00,373.83 L209.25,373.85 L209.50,373.86 L209.75,373.88 L210.00,373.89 L210.25,373.91 L210.50,373.92 L210.75,373.94 L211.00,373.96 L211.25,373.97 L211.50,373.99 L211.75,374.00 L212.00,374.02 L212.25,374.04 L212.50,374.05 L212.75,374.07 L213.00,374.09 L213.25,374.10 L213.50,374.12 L213.75,374.14 L214.00,374.16 L214.25,374.17 L214.50,374.19 L214.75,374.21 L215.00,374.23 L215.25,374.25 L215.50,374.27 L215.75,374.28 L216.00,374.30 L216.25,374.32 L216.50,374.34 L216.75,374.36 L217.00,374.38 L217.25,374.40 L217.50,374.42 L217.75,374.44 L218.00,374.46 L218.25,374.48 L218.50,374.50 L218.75,374.52 L219.00,374.54 L219.25,374.56 L219.50,374.58 L219.75,374.60 L220.00,374.62 L220.25,374.64 L220.50,374.67 L220.75,374.69 L221.00,374.71 L221.25,374.73 L221.50,374.75 L221.75,374.77 L222.00,374.80 L222.25,374.82 L222.50,374.84 L222.75,374.86 L223.00,374.89 L223.25,374.91 L223.50,374.93 L223.75,374.96 L224.00,374.98 L224.25,375.00 L224.50,375.03 L224.75,375.05 L225.00,375.08 L225.25,375.10 L225.50,375.13 L225.75,375.15 L226.00,375.17 L226.25,375.20 L226.50,375.22 L226.75,375.25 L227.00,375.28 L227.25,375.30 L227.50,375.33 L227.75,375.35 L228.00,375.38 L228.25,375.40 L228.50,375.43 L228.75,375.46 L229.00,375.48 L229.25,375.51 L229.50,375.54 L229.75,375.56 L230.00,375.59 L230.25,375.62 L230.50,375.65 L230.75,375.67 L231.00,375.70 L231.25,375.73 L231.50,375.76 L231.75,375.79 L232.00,375.82 L232.25,375.84 L232.50,375.87 L232.75,375.90 L233.00,375.93 L233.25,375.96 L233.50,375.99 L233.75,376.02 L234.00,376.05 L234.25,376.08 L234.50,376.11 L234.75,376.14 L235.00,376.17 L235.25,376.20 L235.50,376.23 L235.75,376.26 L236.00,376.29 L236.25,376.33 L236.50,376.36 L236.75,376.39 L237.00,376.42 L237.25,376.45 L237.50,376.48 L237.75,376.52 L238.00,376.55 L238.25,376.58 L238.50,376.61 L238.75,376.65 L239.00,376.68 L239.25,376.71 L239.50,376.75 L239.75,376.78 L240.00,376.81 L240.25,376.85 L240.50,376.88 L240.75,376.92 L241.00,376.95 L241.25,376.98 L241.50,377.02 L241.75,377.05 L242.00,377.09 L242.25,377.12 L242.50,377.16 L242.75,377.20 L243.00,377.23 L243.25,377.27 L243.50,377.30 L243.75,377.34 L244.00,377.38 L244.25,377.41 L244.50,377.45 L244.75,377.49 L245.00,377.52 L245.25,377.56 L245.50,377.60 L245.75,377.64 L246.00,377.67 L246.25,377.71 L246.50,377.75 L246.75,377.79 L247.00,377.83 L247.25,377.86 L247.50,377.90 L247.75,377.94 L248.00,377.98 L248.25,378.02 L248.50,378.06 L248.75,378.10 L249.00,378.14 L249.25,378.18 L249.50,378.22 L249.75,378.26 L250.00,378.30 L250.25,378.34 L250.50,378.38 L250.75,378.42 L251.00,378.47 L251.25,378.51 L251.50,378.55 L251.75,378.59 L252.00,378.63 L252.25,378.67 L252.50,378.72 L252.75,378.76 L253.00,378.80 L253.25,378.84 L253.50,378.89 L253.75,378.93 L254.00,378.97 L254.25,379.02 L254.50,379.06 L254.75,379.10 L255.00,379.15 L255.25,379.19 L255.50,379.24 L255.75,379.28 L256.00,379.33 L256.25,379.37 L256.50,379.42 L256.75,379.46 L257.00,379.51 L257.25,379.55 L257.50,379.60 L257.75,379.65 L258.00,379.69 L258.25,379.74 L258.50,379.78 L258.75,379.83 L259.00,379.88 L259.25,379.93 L259.50,379.97 L259.75,380.02 L260.00,380.07 L260.25,380.12 L260.50,380.16 L260.75,380.21 L261.00,380.26 L261.25,380.31 L261.50,380.36 L261.75,380.41 L262.00,380.46 L262.25,380.51 L262.50,380.56 L262.75,380.60 L263.00,380.65 L263.25,380.70 L263.50,380.76 L263.75,380.81 L264.00,380.86 L264.25,380.91 L264.50,380.96 L264.75,381.01 L265.00,381.06 L265.25,381.11 L265.50,381.16 L265.75,381.22 L266.00,381.27 L266.25,381.32 L266.50,381.37 L266.75,381.43 L267.00,381.48 L267.25,381.53 L267.50,381.59 L267.75,381.64 L268.00,381.69 L268.25,381.75 L268.50,381.80" fill="none" stroke="#FF00FF" stroke-width="1.5" stroke-linejoin="round"/>
<rect x="43.0" y="235.2" width="226.0" height="182.2" fill="none" stroke="#000" stroke-width="1.6"/>
<text x="47.40" y="247.80" font-size="8.5" text-anchor="start" >Endothermic</text>
<text x="235.30" y="258.80" font-size="18.3" text-anchor="start" >(b)</text>
<text x="267.40" y="292.20" font-size="7.8" text-anchor="end" >Al-12Si alloy</text>
<text x="268.40" y="337.20" font-size="7.8" text-anchor="end" >Al-12Si@Al<tspan font-size="7.4" dy="1.8">2</tspan><tspan dy="-1.8">O</tspan><tspan font-size="7.4" dy="1.8">3</tspan><tspan dy="-1.8">,120&#176;C</tspan></text>
<text x="269.00" y="370.20" font-size="7.8" text-anchor="end" >Al-12Si@Al<tspan font-size="7.4" dy="1.8">2</tspan><tspan dy="-1.8">O</tspan><tspan font-size="7.4" dy="1.8">3</tspan><tspan dy="-1.8">, 120&#176;C, after 30 cycles</tspan></text>
<text x="156.80" y="448.20" font-size="15.3" text-anchor="middle" >Temperature (&#176;C)</text>
<text transform="translate(14.8,392.8) rotate(-90)" font-size="15.3">Heat Flow (mW/mg)</text>
<line x1="315.00" y1="417.10" x2="318.50" y2="417.10" stroke="#000" stroke-width="1.1"/>
<text x="312.50" y="420.90" font-size="12" text-anchor="end" >-10</text>
<line x1="315.00" y1="380.72" x2="318.50" y2="380.72" stroke="#000" stroke-width="1.1"/>
<text x="312.50" y="384.52" font-size="12" text-anchor="end" >-5</text>
<line x1="315.00" y1="344.34" x2="318.50" y2="344.34" stroke="#000" stroke-width="1.1"/>
<text x="312.50" y="348.14" font-size="12" text-anchor="end" >0</text>
<line x1="315.00" y1="307.96" x2="318.50" y2="307.96" stroke="#000" stroke-width="1.1"/>
<text x="312.50" y="311.76" font-size="12" text-anchor="end" >5</text>
<line x1="315.00" y1="271.58" x2="318.50" y2="271.58" stroke="#000" stroke-width="1.1"/>
<text x="312.50" y="275.38" font-size="12" text-anchor="end" >10</text>
<line x1="315.00" y1="235.20" x2="318.50" y2="235.20" stroke="#000" stroke-width="1.1"/>
<text x="312.50" y="239.00" font-size="12" text-anchor="end" >15</text>
<line x1="316.50" y1="398.91" x2="318.50" y2="398.91" stroke="#000" stroke-width="1.1"/>
<line x1="316.50" y1="362.53" x2="318.50" y2="362.53" stroke="#000" stroke-width="1.1"/>
<line x1="316.50" y1="326.15" x2="318.50" y2="326.15" stroke="#000" stroke-width="1.1"/>
<line x1="316.50" y1="289.77" x2="318.50" y2="289.77" stroke="#000" stroke-width="1.1"/>
<line x1="316.50" y1="253.39" x2="318.50" y2="253.39" stroke="#000" stroke-width="1.1"/>
<line x1="339.00" y1="417.10" x2="339.00" y2="420.60" stroke="#000" stroke-width="1.1"/>
<text x="339.00" y="433.30" font-size="12" text-anchor="middle" >475</text>
<line x1="370.60" y1="417.10" x2="370.60" y2="420.60" stroke="#000" stroke-width="1.1"/>
<text x="370.60" y="433.30" font-size="12" text-anchor="middle" >500</text>
<line x1="402.20" y1="417.10" x2="402.20" y2="420.60" stroke="#000" stroke-width="1.1"/>
<text x="402.20" y="433.30" font-size="12" text-anchor="middle" >525</text>
<line x1="433.80" y1="417.10" x2="433.80" y2="420.60" stroke="#000" stroke-width="1.1"/>
<text x="433.80" y="433.30" font-size="12" text-anchor="middle" >550</text>
<line x1="465.40" y1="417.10" x2="465.40" y2="420.60" stroke="#000" stroke-width="1.1"/>
<text x="465.40" y="433.30" font-size="12" text-anchor="middle" >575</text>
<line x1="497.00" y1="417.10" x2="497.00" y2="420.60" stroke="#000" stroke-width="1.1"/>
<text x="497.00" y="433.30" font-size="12" text-anchor="middle" >600</text>
<line x1="528.60" y1="417.10" x2="528.60" y2="420.60" stroke="#000" stroke-width="1.1"/>
<text x="528.60" y="433.30" font-size="12" text-anchor="middle" >625</text>
<line x1="323.20" y1="417.10" x2="323.20" y2="419.10" stroke="#000" stroke-width="1.1"/>
<line x1="354.80" y1="417.10" x2="354.80" y2="419.10" stroke="#000" stroke-width="1.1"/>
<line x1="386.40" y1="417.10" x2="386.40" y2="419.10" stroke="#000" stroke-width="1.1"/>
<line x1="418.00" y1="417.10" x2="418.00" y2="419.10" stroke="#000" stroke-width="1.1"/>
<line x1="449.60" y1="417.10" x2="449.60" y2="419.10" stroke="#000" stroke-width="1.1"/>
<line x1="481.20" y1="417.10" x2="481.20" y2="419.10" stroke="#000" stroke-width="1.1"/>
<line x1="512.80" y1="417.10" x2="512.80" y2="419.10" stroke="#000" stroke-width="1.1"/>
<path d="M319.00,307.70 L319.25,307.71 L319.50,307.71 L319.75,307.72 L320.00,307.72 L320.25,307.73 L320.50,307.74 L320.75,307.74 L321.00,307.75 L321.25,307.75 L321.50,307.76 L321.75,307.76 L322.00,307.77 L322.25,307.78 L322.50,307.78 L322.75,307.79 L323.00,307.79 L323.25,307.80 L323.50,307.80 L323.75,307.81 L324.00,307.82 L324.25,307.82 L324.50,307.83 L324.75,307.83 L325.00,307.84 L325.25,307.84 L325.50,307.85 L325.75,307.86 L326.00,307.86 L326.25,307.87 L326.50,307.87 L326.75,307.88 L327.00,307.88 L327.25,307.89 L327.50,307.90 L327.75,307.90 L328.00,307.91 L328.25,307.91 L328.50,307.92 L328.75,307.92 L329.00,307.93 L329.25,307.94 L329.50,307.94 L329.75,307.95 L330.00,307.95 L330.25,307.96 L330.50,307.96 L330.75,307.97 L331.00,307.98 L331.25,307.98 L331.50,307.99 L331.75,307.99 L332.00,308.00 L332.25,308.00 L332.50,308.01 L332.75,308.02 L333.00,308.02 L333.25,308.03 L333.50,308.03 L333.75,308.04 L334.00,308.04 L334.25,308.05 L334.50,308.05 L334.75,308.06 L335.00,308.07 L335.25,308.07 L335.50,308.08 L335.75,308.08 L336.00,308.09 L336.25,308.09 L336.50,308.10 L336.75,308.10 L337.00,308.11 L337.25,308.12 L337.50,308.12 L337.75,308.13 L338.00,308.13 L338.25,308.14 L338.50,308.14 L338.75,308.15 L339.00,308.15 L339.25,308.16 L339.50,308.17 L339.75,308.17 L340.00,308.18 L340.25,308.18 L340.50,308.19 L340.75,308.19 L341.00,308.20 L341.25,308.20 L341.50,308.21 L341.75,308.21 L342.00,308.22 L342.25,308.23 L342.50,308.23 L342.75,308.24 L343.00,308.24 L343.25,308.25 L343.50,308.25 L343.75,308.26 L344.00,308.26 L344.25,308.27 L344.50,308.27 L344.75,308.28 L345.00,308.29 L345.25,308.29 L345.50,308.30 L345.75,308.30 L346.00,308.31 L346.25,308.31 L346.50,308.32 L346.75,308.32 L347.00,308.33 L347.25,308.33 L347.50,308.34 L347.75,308.34 L348.00,308.35 L348.25,308.35 L348.50,308.36 L348.75,308.37 L349.00,308.37 L349.25,308.38 L349.50,308.38 L349.75,308.39 L350.00,308.39 L350.25,308.40 L350.50,308.40 L350.75,308.41 L351.00,308.41 L351.25,308.42 L351.50,308.42 L351.75,308.43 L352.00,308.43 L352.25,308.44 L352.50,308.44 L352.75,308.45 L353.00,308.46 L353.25,308.46 L353.50,308.47 L353.75,308.47 L354.00,308.48 L354.25,308.48 L354.50,308.49 L354.75,308.49 L355.00,308.50 L355.25,308.50 L355.50,308.51 L355.75,308.51 L356.00,308.52 L356.25,308.52 L356.50,308.53 L356.75,308.53 L357.00,308.54 L357.25,308.54 L357.50,308.55 L357.75,308.55 L358.00,308.56 L358.25,308.56 L358.50,308.57 L358.75,308.57 L359.00,308.58 L359.25,308.58 L359.50,308.59 L359.75,308.59 L360.00,308.60 L360.25,308.61 L360.50,308.61 L360.75,308.62 L361.00,308.62 L361.25,308.63 L361.50,308.63 L361.75,308.64 L362.00,308.64 L362.25,308.65 L362.50,308.65 L362.75,308.66 L363.00,308.66 L363.25,308.67 L363.50,308.67 L363.75,308.68 L364.00,308.68 L364.25,308.69 L364.50,308.69 L364.75,308.70 L365.00,308.70 L365.25,308.71 L365.50,308.71 L365.75,308.72 L366.00,308.72 L366.25,308.73 L366.50,308.73 L366.75,308.74 L367.00,308.74 L367.25,308.74 L367.50,308.75 L367.75,308.75 L368.00,308.76 L368.25,308.76 L368.50,308.77 L368.75,308.77 L369.00,308.78 L369.25,308.78 L369.50,308.79 L369.75,308.79 L370.00,308.80 L370.25,308.80 L370.50,308.81 L370.75,308.81 L371.00,308.82 L371.25,308.82 L371.50,308.83 L371.75,308.83 L372.00,308.84 L372.25,308.84 L372.50,308.85 L372.75,308.85 L373.00,308.86 L373.25,308.86 L373.50,308.87 L373.75,308.87 L374.00,308.88 L374.25,308.88 L374.50,308.89 L374.75,308.89 L375.00,308.89 L375.25,308.90 L375.50,308.90 L375.75,308.91 L376.00,308.91 L376.25,308.92 L376.50,308.92 L376.75,308.93 L377.00,308.93 L377.25,308.94 L377.50,308.94 L377.75,308.95 L378.00,308.95 L378.25,308.96 L378.50,308.96 L378.75,308.97 L379.00,308.97 L379.25,308.98 L379.50,308.98 L379.75,308.98 L380.00,308.99 L380.25,308.99 L380.50,309.00 L380.75,309.00 L381.00,309.01 L381.25,309.01 L381.50,309.02 L381.75,309.02 L382.00,309.03 L382.25,309.03 L382.50,309.04 L382.75,309.04 L383.00,309.05 L383.25,309.05 L383.50,309.05 L383.75,309.06 L384.00,309.06 L384.25,309.07 L384.50,309.07 L384.75,309.08 L385.00,309.08 L385.25,309.09 L385.50,309.09 L385.75,309.10 L386.00,309.10 L386.25,309.11 L386.50,309.11 L386.75,309.12 L387.00,309.12 L387.25,309.12 L387.50,309.13 L387.75,309.13 L388.00,309.14 L388.25,309.14 L388.50,309.15 L388.75,309.15 L389.00,309.16 L389.25,309.16 L389.50,309.17 L389.75,309.17 L390.00,309.18 L390.25,309.18 L390.50,309.19 L390.75,309.19 L391.00,309.19 L391.25,309.20 L391.50,309.20 L391.75,309.21 L392.00,309.21 L392.25,309.22 L392.50,309.22 L392.75,309.23 L393.00,309.23 L393.25,309.24 L393.50,309.24 L393.75,309.25 L394.00,309.25 L394.25,309.25 L394.50,309.26 L394.75,309.26 L395.00,309.27 L395.25,309.27 L395.50,309.28 L395.75,309.28 L396.00,309.29 L396.25,309.29 L396.50,309.30 L396.75,309.30 L397.00,309.31 L397.25,309.31 L397.50,309.32 L397.75,309.32 L398.00,309.32 L398.25,309.33 L398.50,309.33 L398.75,309.34 L399.00,309.34 L399.25,309.35 L399.50,309.35 L399.75,309.36 L400.00,309.36 L400.25,309.37 L400.50,309.37 L400.75,309.38 L401.00,309.38 L401.25,309.39 L401.50,309.39 L401.75,309.40 L402.00,309.40 L402.25,309.40 L402.50,309.41 L402.75,309.41 L403.00,309.42 L403.25,309.43 L403.50,309.43 L403.75,309.44 L404.00,309.44 L404.25,309.45 L404.50,309.45 L404.75,309.46 L405.00,309.47 L405.25,309.47 L405.50,309.48 L405.75,309.48 L406.00,309.49 L406.25,309.50 L406.50,309.50 L406.75,309.51 L407.00,309.51 L407.25,309.52 L407.50,309.53 L407.75,309.53 L408.00,309.54 L408.25,309.55 L408.50,309.55 L408.75,309.56 L409.00,309.56 L409.25,309.57 L409.50,309.58 L409.75,309.58 L410.00,309.59 L410.25,309.59 L410.50,309.60 L410.75,309.60 L411.00,309.61 L411.25,309.62 L411.50,309.62 L411.75,309.63 L412.00,309.63 L412.25,309.64 L412.50,309.64 L412.75,309.65 L413.00,309.65 L413.25,309.66 L413.50,309.66 L413.75,309.66 L414.00,309.67 L414.25,309.67 L414.50,309.67 L414.75,309.68 L415.00,309.68 L415.25,309.68 L415.50,309.69 L415.75,309.69 L416.00,309.69 L416.25,309.69 L416.50,309.69 L416.75,309.70 L417.00,309.70 L417.25,309.70 L417.50,309.70 L417.75,309.70 L418.00,309.70 L418.25,309.70 L418.50,309.70 L418.75,309.70 L419.00,309.70 L419.25,309.70 L419.50,309.69 L419.75,309.69 L420.00,309.69 L420.25,309.69 L420.50,309.68 L420.75,309.68 L421.00,309.67 L421.25,309.67 L421.50,309.67 L421.75,309.66 L422.00,309.65 L422.25,309.65 L422.50,309.64 L422.75,309.64 L423.00,309.63 L423.25,309.62 L423.50,309.62 L423.75,309.61 L424.00,309.60 L424.25,309.59 L424.50,309.57 L424.75,309.54 L425.00,309.51 L425.25,309.48 L425.50,309.43 L425.75,309.39 L426.00,309.34 L426.25,309.28 L426.50,309.22 L426.75,309.16 L427.00,309.09 L427.25,309.02 L427.50,308.95 L427.75,308.88 L428.00,308.80 L428.25,308.72 L428.50,308.63 L428.75,308.53 L429.00,308.42 L429.25,308.29 L429.50,308.16 L429.75,308.02 L430.00,307.87 L430.25,307.71 L430.50,307.54 L430.75,307.36 L431.00,307.17 L431.25,306.97 L431.50,306.76 L431.75,306.54 L432.00,306.31 L432.25,306.07 L432.50,305.82 L432.75,305.56 L433.00,305.29 L433.25,304.97 L433.50,304.59 L433.75,304.17 L434.00,303.71 L434.25,303.21 L434.50,302.67 L434.75,302.11 L435.00,301.52 L435.25,300.91 L435.50,300.28 L435.75,299.64 L436.00,299.00 L436.25,298.33 L436.50,297.62 L436.75,296.87 L437.00,296.08 L437.25,295.26 L437.50,294.40 L437.75,293.51 L438.00,292.59 L438.25,291.65 L438.50,290.69 L438.75,289.70 L439.00,288.69 L439.25,287.63 L439.50,286.52 L439.75,285.36 L440.00,284.16 L440.25,282.91 L440.50,281.62 L440.75,280.27 L441.00,278.87 L441.25,277.37 L441.50,275.80 L441.75,274.16 L442.00,272.47 L442.25,270.75 L442.50,269.00 L442.75,267.20 L443.00,265.35 L443.25,263.44 L443.50,261.46 L443.75,259.42 L444.00,257.22 L444.25,254.82 L444.50,252.41 L444.75,250.20 L445.00,248.21 L445.25,246.26 L445.50,244.53 L445.75,243.20 L446.00,242.25 L446.25,241.37 L446.50,240.59 L446.75,239.98 L447.00,239.60 L447.25,239.50 L447.50,239.61 L447.75,239.85 L448.00,240.21 L448.25,240.68 L448.50,241.31 L448.75,242.71 L449.00,244.86 L449.25,247.57 L449.50,251.11 L449.75,257.97 L450.00,290.00 L450.25,307.00 L450.50,309.32 L450.75,310.28 L451.00,310.60 L451.25,310.64 L451.50,310.69 L451.75,310.73 L452.00,310.77 L452.25,310.81 L452.50,310.85 L452.75,310.89 L453.00,310.92 L453.25,310.96 L453.50,310.99 L453.75,311.03 L454.00,311.06 L454.25,311.10 L454.50,311.13 L454.75,311.16 L455.00,311.19 L455.25,311.22 L455.50,311.25 L455.75,311.28 L456.00,311.30 L456.25,311.33 L456.50,311.36 L456.75,311.38 L457.00,311.41 L457.25,311.43 L457.50,311.45 L457.75,311.48 L458.00,311.50 L458.25,311.52 L458.50,311.54 L458.75,311.56 L459.00,311.58 L459.25,311.60 L459.50,311.62 L459.75,311.64 L460.00,311.65 L460.25,311.67 L460.50,311.69 L460.75,311.70 L461.00,311.72 L461.25,311.73 L461.50,311.75 L461.75,311.76 L462.00,311.77 L462.25,311.79 L462.50,311.80 L462.75,311.81 L463.00,311.82 L463.25,311.83 L463.50,311.85 L463.75,311.86 L464.00,311.87 L464.25,311.88 L464.50,311.89 L464.75,311.90 L465.00,311.91 L465.25,311.91 L465.50,311.92 L465.75,311.93 L466.00,311.94 L466.25,311.95 L466.50,311.96 L466.75,311.96 L467.00,311.97 L467.25,311.98 L467.50,311.98 L467.75,311.99 L468.00,312.00 L468.25,312.01 L468.50,312.01 L468.75,312.02 L469.00,312.02 L469.25,312.03 L469.50,312.04 L469.75,312.04 L470.00,312.05 L470.25,312.05 L470.50,312.06 L470.75,312.07 L471.00,312.07 L471.25,312.08 L471.50,312.08 L471.75,312.09 L472.00,312.10 L472.25,312.10 L472.50,312.11 L472.75,312.12 L473.00,312.12 L473.25,312.13 L473.50,312.14 L473.75,312.14 L474.00,312.15 L474.25,312.16 L474.50,312.16 L474.75,312.17 L475.00,312.18 L475.25,312.19 L475.50,312.20 L475.75,312.21 L476.00,312.21 L476.25,312.22 L476.50,312.23 L476.75,312.24 L477.00,312.25 L477.25,312.26 L477.50,312.27 L477.75,312.28 L478.00,312.30 L478.25,312.31 L478.50,312.32 L478.75,312.33 L479.00,312.34 L479.25,312.36 L479.50,312.37 L479.75,312.39 L480.00,312.40 L480.25,312.41 L480.50,312.43 L480.75,312.44 L481.00,312.46 L481.25,312.47 L481.50,312.49 L481.75,312.50 L482.00,312.52 L482.25,312.53 L482.50,312.55 L482.75,312.56 L483.00,312.58 L483.25,312.59 L483.50,312.61 L483.75,312.62 L484.00,312.64 L484.25,312.65 L484.50,312.67 L484.75,312.68 L485.00,312.70 L485.25,312.71 L485.50,312.73 L485.75,312.74 L486.00,312.75 L486.25,312.77 L486.50,312.78 L486.75,312.80 L487.00,312.81 L487.25,312.83 L487.50,312.84 L487.75,312.86 L488.00,312.87 L488.25,312.89 L488.50,312.90 L488.75,312.92 L489.00,312.93 L489.25,312.95 L489.50,312.96 L489.75,312.98 L490.00,312.99 L490.25,313.00 L490.50,313.02 L490.75,313.03 L491.00,313.05 L491.25,313.06 L491.50,313.08 L491.75,313.09 L492.00,313.11 L492.25,313.12 L492.50,313.14 L492.75,313.15 L493.00,313.17 L493.25,313.18 L493.50,313.19 L493.75,313.21 L494.00,313.22 L494.25,313.24 L494.50,313.25 L494.75,313.27 L495.00,313.28 L495.25,313.30 L495.50,313.31 L495.75,313.33 L496.00,313.34 L496.25,313.35 L496.50,313.37 L496.75,313.38 L497.00,313.40 L497.25,313.41 L497.50,313.43 L497.75,313.44 L498.00,313.46 L498.25,313.47 L498.50,313.49 L498.75,313.50 L499.00,313.51 L499.25,313.53 L499.50,313.54 L499.75,313.56 L500.00,313.57 L500.25,313.59 L500.50,313.60 L500.75,313.62 L501.00,313.63 L501.25,313.64 L501.50,313.66 L501.75,313.67 L502.00,313.69 L502.25,313.70 L502.50,313.72 L502.75,313.73 L503.00,313.74 L503.25,313.76 L503.50,313.77 L503.75,313.79 L504.00,313.80 L504.25,313.82 L504.50,313.83 L504.75,313.84 L505.00,313.86 L505.25,313.87 L505.50,313.89 L505.75,313.90 L506.00,313.92 L506.25,313.93 L506.50,313.94 L506.75,313.96 L507.00,313.97 L507.25,313.99 L507.50,314.00 L507.75,314.02 L508.00,314.03 L508.25,314.04 L508.50,314.06 L508.75,314.07 L509.00,314.09 L509.25,314.10 L509.50,314.12 L509.75,314.13 L510.00,314.14 L510.25,314.16 L510.50,314.17 L510.75,314.19 L511.00,314.20 L511.25,314.21 L511.50,314.23 L511.75,314.24 L512.00,314.26 L512.25,314.27 L512.50,314.29 L512.75,314.30 L513.00,314.31 L513.25,314.33 L513.50,314.34 L513.75,314.36 L514.00,314.37 L514.25,314.38 L514.50,314.40 L514.75,314.41 L515.00,314.43 L515.25,314.44 L515.50,314.45 L515.75,314.47 L516.00,314.48 L516.25,314.50 L516.50,314.51 L516.75,314.52 L517.00,314.54 L517.25,314.55 L517.50,314.57 L517.75,314.58 L518.00,314.59 L518.25,314.61 L518.50,314.62 L518.75,314.64 L519.00,314.65 L519.25,314.66 L519.50,314.68 L519.75,314.69 L520.00,314.71 L520.25,314.72 L520.50,314.73 L520.75,314.75 L521.00,314.76 L521.25,314.77 L521.50,314.79 L521.75,314.80 L522.00,314.82 L522.25,314.83 L522.50,314.84 L522.75,314.86 L523.00,314.87 L523.25,314.89 L523.50,314.90 L523.75,314.91 L524.00,314.93 L524.25,314.94 L524.50,314.95 L524.75,314.97 L525.00,314.98 L525.25,315.00 L525.50,315.01 L525.75,315.02 L526.00,315.04 L526.25,315.05 L526.50,315.06 L526.75,315.08 L527.00,315.09 L527.25,315.10 L527.50,315.12 L527.75,315.13 L528.00,315.15 L528.25,315.16 L528.50,315.17 L528.75,315.19 L529.00,315.20 L529.25,315.21 L529.50,315.23 L529.75,315.24 L530.00,315.25 L530.25,315.27 L530.50,315.28 L530.75,315.29 L531.00,315.31 L531.25,315.32 L531.50,315.34 L531.75,315.35 L532.00,315.36 L532.25,315.38 L532.50,315.39 L532.75,315.40 L533.00,315.42 L533.25,315.43 L533.50,315.44 L533.75,315.46 L534.00,315.47 L534.25,315.48 L534.50,315.50 L534.75,315.51 L535.00,315.52 L535.25,315.54 L535.50,315.55 L535.75,315.56 L536.00,315.58 L536.25,315.59 L536.50,315.60 L536.75,315.62 L537.00,315.63 L537.25,315.64 L537.50,315.66 L537.75,315.67 L538.00,315.68 L538.25,315.70 L538.50,315.71 L538.75,315.72 L539.00,315.74 L539.25,315.75 L539.50,315.76 L539.75,315.78 L540.00,315.79 L540.25,315.80 L540.50,315.82 L540.75,315.83 L541.00,315.84 L541.25,315.86 L541.50,315.87 L541.75,315.88 L542.00,315.90 L542.25,315.91 L542.50,315.92 L542.75,315.93 L543.00,315.95 L543.25,315.96 L543.50,315.97 L543.75,315.99 L544.00,316.00" fill="none" stroke="#000000" stroke-width="1.5" stroke-linejoin="round"/>
<path d="M319.00,344.20 L319.25,344.22 L319.50,344.24 L319.75,344.26 L320.00,344.28 L320.25,344.30 L320.50,344.32 L320.75,344.34 L321.00,344.36 L321.25,344.38 L321.50,344.40 L321.75,344.42 L322.00,344.44 L322.25,344.46 L322.50,344.48 L322.75,344.50 L323.00,344.52 L323.25,344.54 L323.50,344.56 L323.75,344.58 L324.00,344.60 L324.25,344.62 L324.50,344.64 L324.75,344.66 L325.00,344.68 L325.25,344.70 L325.50,344.72 L325.75,344.74 L326.00,344.76 L326.25,344.78 L326.50,344.80 L326.75,344.82 L327.00,344.84 L327.25,344.86 L327.50,344.88 L327.75,344.90 L328.00,344.92 L328.25,344.94 L328.50,344.96 L328.75,344.98 L329.00,345.00 L329.25,345.01 L329.50,345.03 L329.75,345.05 L330.00,345.07 L330.25,345.09 L330.50,345.11 L330.75,345.13 L331.00,345.15 L331.25,345.17 L331.50,345.19 L331.75,345.21 L332.00,345.22 L332.25,345.24 L332.50,345.26 L332.75,345.28 L333.00,345.30 L333.25,345.32 L333.50,345.34 L333.75,345.36 L334.00,345.38 L334.25,345.39 L334.50,345.41 L334.75,345.43 L335.00,345.45 L335.25,345.47 L335.50,345.49 L335.75,345.51 L336.00,345.52 L336.25,345.54 L336.50,345.56 L336.75,345.58 L337.00,345.60 L337.25,345.62 L337.50,345.63 L337.75,345.65 L338.00,345.67 L338.25,345.69 L338.50,345.71 L338.75,345.72 L339.00,345.74 L339.25,345.76 L339.50,345.78 L339.75,345.80 L340.00,345.81 L340.25,345.83 L340.50,345.85 L340.75,345.87 L341.00,345.88 L341.25,345.90 L341.50,345.92 L341.75,345.94 L342.00,345.96 L342.25,345.97 L342.50,345.99 L342.75,346.01 L343.00,346.03 L343.25,346.04 L343.50,346.06 L343.75,346.08 L344.00,346.10 L344.25,346.11 L344.50,346.13 L344.75,346.15 L345.00,346.16 L345.25,346.18 L345.50,346.20 L345.75,346.22 L346.00,346.23 L346.25,346.25 L346.50,346.27 L346.75,346.28 L347.00,346.30 L347.25,346.32 L347.50,346.33 L347.75,346.35 L348.00,346.37 L348.25,346.38 L348.50,346.40 L348.75,346.42 L349.00,346.43 L349.25,346.45 L349.50,346.47 L349.75,346.48 L350.00,346.50 L350.25,346.52 L350.50,346.53 L350.75,346.55 L351.00,346.57 L351.25,346.58 L351.50,346.60 L351.75,346.62 L352.00,346.64 L352.25,346.65 L352.50,346.67 L352.75,346.69 L353.00,346.71 L353.25,346.73 L353.50,346.75 L353.75,346.76 L354.00,346.78 L354.25,346.80 L354.50,346.82 L354.75,346.84 L355.00,346.86 L355.25,346.88 L355.50,346.90 L355.75,346.92 L356.00,346.94 L356.25,346.96 L356.50,346.97 L356.75,346.99 L357.00,347.01 L357.25,347.03 L357.50,347.05 L357.75,347.07 L358.00,347.09 L358.25,347.11 L358.50,347.13 L358.75,347.15 L359.00,347.17 L359.25,347.19 L359.50,347.21 L359.75,347.23 L360.00,347.25 L360.25,347.27 L360.50,347.29 L360.75,347.31 L361.00,347.33 L361.25,347.35 L361.50,347.37 L361.75,347.39 L362.00,347.41 L362.25,347.43 L362.50,347.45 L362.75,347.46 L363.00,347.48 L363.25,347.50 L363.50,347.52 L363.75,347.54 L364.00,347.56 L364.25,347.58 L364.50,347.60 L364.75,347.61 L365.00,347.63 L365.25,347.65 L365.50,347.67 L365.75,347.69 L366.00,347.70 L366.25,347.72 L366.50,347.74 L366.75,347.76 L367.00,347.77 L367.25,347.79 L367.50,347.81 L367.75,347.82 L368.00,347.84 L368.25,347.86 L368.50,347.87 L368.75,347.89 L369.00,347.90 L369.25,347.92 L369.50,347.93 L369.75,347.95 L370.00,347.96 L370.25,347.98 L370.50,347.99 L370.75,348.01 L371.00,348.02 L371.25,348.03 L371.50,348.05 L371.75,348.06 L372.00,348.07 L372.25,348.08 L372.50,348.10 L372.75,348.11 L373.00,348.12 L373.25,348.13 L373.50,348.14 L373.75,348.15 L374.00,348.16 L374.25,348.17 L374.50,348.18 L374.75,348.19 L375.00,348.20 L375.25,348.21 L375.50,348.22 L375.75,348.22 L376.00,348.23 L376.25,348.24 L376.50,348.25 L376.75,348.25 L377.00,348.26 L377.25,348.26 L377.50,348.27 L377.75,348.27 L378.00,348.28 L378.25,348.28 L378.50,348.29 L378.75,348.29 L379.00,348.29 L379.25,348.29 L379.50,348.30 L379.75,348.30 L380.00,348.30 L380.25,348.30 L380.50,348.30 L380.75,348.30 L381.00,348.29 L381.25,348.28 L381.50,348.26 L381.75,348.24 L382.00,348.22 L382.25,348.20 L382.50,348.17 L382.75,348.14 L383.00,348.10 L383.25,348.07 L383.50,348.03 L383.75,348.00 L384.00,347.96 L384.25,347.92 L384.50,347.88 L384.75,347.84 L385.00,347.80 L385.25,347.76 L385.50,347.72 L385.75,347.67 L386.00,347.63 L386.25,347.58 L386.50,347.53 L386.75,347.47 L387.00,347.42 L387.25,347.36 L387.50,347.29 L387.75,347.23 L388.00,347.16 L388.25,347.09 L388.50,347.02 L388.75,346.94 L389.00,346.86 L389.25,346.78 L389.50,346.70 L389.75,346.61 L390.00,346.51 L390.25,346.42 L390.50,346.31 L390.75,346.19 L391.00,346.04 L391.25,345.88 L391.50,345.70 L391.75,345.51 L392.00,345.31 L392.25,345.10 L392.50,344.89 L392.75,344.68 L393.00,344.46 L393.25,344.25 L393.50,344.04 L393.75,343.83 L394.00,343.64 L394.25,343.46 L394.50,343.29 L394.75,343.13 L395.00,343.00 L395.25,342.87 L395.50,342.75 L395.75,342.62 L396.00,342.49 L396.25,342.36 L396.50,342.23 L396.75,342.10 L397.00,341.98 L397.25,341.86 L397.50,341.74 L397.75,341.62 L398.00,341.51 L398.25,341.40 L398.50,341.30 L398.75,341.20 L399.00,341.11 L399.25,341.03 L399.50,340.96 L399.75,340.89 L400.00,340.83 L400.25,340.78 L400.50,340.75 L400.75,340.72 L401.00,340.70 L401.25,340.70 L401.50,340.71 L401.75,340.73 L402.00,340.77 L402.25,340.82 L402.50,340.87 L402.75,340.93 L403.00,341.00 L403.25,341.07 L403.50,341.15 L403.75,341.22 L404.00,341.30 L404.25,341.38 L404.50,341.47 L404.75,341.57 L405.00,341.68 L405.25,341.80 L405.50,341.92 L405.75,342.05 L406.00,342.19 L406.25,342.34 L406.50,342.49 L406.75,342.64 L407.00,342.80 L407.25,342.97 L407.50,343.14 L407.75,343.33 L408.00,343.54 L408.25,343.76 L408.50,343.99 L408.75,344.24 L409.00,344.49 L409.25,344.74 L409.50,345.00 L409.75,345.26 L410.00,345.52 L410.25,345.78 L410.50,346.03 L410.75,346.27 L411.00,346.50 L411.25,346.72 L411.50,346.95 L411.75,347.17 L412.00,347.39 L412.25,347.62 L412.50,347.83 L412.75,348.05 L413.00,348.27 L413.25,348.48 L413.50,348.69 L413.75,348.90 L414.00,349.10 L414.25,349.30 L414.50,349.50 L414.75,349.70 L415.00,349.89 L415.25,350.09 L415.50,350.28 L415.75,350.48 L416.00,350.67 L416.25,350.86 L416.50,351.04 L416.75,351.22 L417.00,351.39 L417.25,351.56 L417.50,351.71 L417.75,351.86 L418.00,352.00 L418.25,352.13 L418.50,352.26 L418.75,352.39 L419.00,352.51 L419.25,352.63 L419.50,352.75 L419.75,352.86 L420.00,352.97 L420.25,353.08 L420.50,353.17 L420.75,353.27 L421.00,353.36 L421.25,353.44 L421.50,353.52 L421.75,353.59 L422.00,353.65 L422.25,353.71 L422.50,353.78 L422.75,353.84 L423.00,353.89 L423.25,353.95 L423.50,354.00 L423.75,354.06 L424.00,354.11 L424.25,354.16 L424.50,354.21 L424.75,354.25 L425.00,354.30 L425.25,354.34 L425.50,354.39 L425.75,354.43 L426.00,354.47 L426.25,354.51 L426.50,354.55 L426.75,354.58 L427.00,354.62 L427.25,354.66 L427.50,354.69 L427.75,354.73 L428.00,354.76 L428.25,354.79 L428.50,354.83 L428.75,354.86 L429.00,354.89 L429.25,354.92 L429.50,354.95 L429.75,354.98 L430.00,355.00 L430.25,355.03 L430.50,355.05 L430.75,355.08 L431.00,355.10 L431.25,355.12 L431.50,355.14 L431.75,355.16 L432.00,355.18 L432.25,355.20 L432.50,355.22 L432.75,355.24 L433.00,355.26 L433.25,355.28 L433.50,355.30 L433.75,355.31 L434.00,355.33 L434.25,355.35 L434.50,355.37 L434.75,355.39 L435.00,355.41 L435.25,355.43 L435.50,355.45 L435.75,355.48 L436.00,355.50 L436.25,355.52 L436.50,355.55 L436.75,355.58 L437.00,355.60 L437.25,355.63 L437.50,355.66 L437.75,355.69 L438.00,355.73 L438.25,355.76 L438.50,355.80 L438.75,355.84 L439.00,355.88 L439.25,355.93 L439.50,355.98 L439.75,356.03 L440.00,356.08 L440.25,356.13 L440.50,356.19 L440.75,356.24 L441.00,356.30 L441.25,356.37 L441.50,356.45 L441.75,356.54 L442.00,356.64 L442.25,356.74 L442.50,356.83 L442.75,356.92 L443.00,356.99 L443.25,357.05 L443.50,357.09 L443.75,357.11 L444.00,357.12 L444.25,357.13 L444.50,357.14 L444.75,357.15 L445.00,357.15 L445.25,357.16 L445.50,357.16 L445.75,357.17 L446.00,357.18 L446.25,357.19 L446.50,357.20 L446.75,357.21 L447.00,357.23 L447.25,357.25 L447.50,357.26 L447.75,357.28 L448.00,357.31 L448.25,357.33 L448.50,357.36 L448.75,357.39 L449.00,357.42 L449.25,357.46 L449.50,357.50 L449.75,357.56 L450.00,357.64 L450.25,357.74 L450.50,357.86 L450.75,357.98 L451.00,358.12 L451.25,358.25 L451.50,358.38 L451.75,358.50 L452.00,358.60 L452.25,358.69 L452.50,358.79 L452.75,358.88 L453.00,358.97 L453.25,359.05 L453.50,359.14 L453.75,359.22 L454.00,359.30 L454.25,359.38 L454.50,359.46 L454.75,359.54 L455.00,359.61 L455.25,359.69 L455.50,359.76 L455.75,359.83 L456.00,359.90 L456.25,359.98 L456.50,360.05 L456.75,360.12 L457.00,360.19 L457.25,360.26 L457.50,360.33 L457.75,360.40 L458.00,360.46 L458.25,360.53 L458.50,360.60 L458.75,360.66 L459.00,360.72 L459.25,360.79 L459.50,360.85 L459.75,360.90 L460.00,360.96 L460.25,361.02 L460.50,361.07 L460.75,361.13 L461.00,361.18 L461.25,361.23 L461.50,361.28 L461.75,361.33 L462.00,361.37 L462.25,361.42 L462.50,361.46 L462.75,361.50 L463.00,361.55 L463.25,361.59 L463.50,361.63 L463.75,361.67 L464.00,361.70 L464.25,361.74 L464.50,361.78 L464.75,361.82 L465.00,361.85 L465.25,361.89 L465.50,361.93 L465.75,361.96 L466.00,362.00 L466.25,362.04 L466.50,362.07 L466.75,362.11 L467.00,362.15 L467.25,362.18 L467.50,362.22 L467.75,362.26 L468.00,362.30 L468.25,362.34 L468.50,362.38 L468.75,362.42 L469.00,362.46 L469.25,362.50 L469.50,362.55 L469.75,362.59 L470.00,362.64 L470.25,362.68 L470.50,362.73 L470.75,362.78 L471.00,362.83 L471.25,362.88 L471.50,362.94 L471.75,362.99 L472.00,363.04 L472.25,363.09 L472.50,363.15 L472.75,363.20 L473.00,363.26 L473.25,363.32 L473.50,363.37 L473.75,363.43 L474.00,363.49 L474.25,363.54 L474.50,363.60 L474.75,363.66 L475.00,363.72 L475.25,363.77 L475.50,363.83 L475.75,363.89 L476.00,363.95 L476.25,364.00 L476.50,364.06 L476.75,364.12 L477.00,364.17 L477.25,364.23 L477.50,364.28 L477.75,364.34 L478.00,364.39 L478.25,364.45 L478.50,364.50 L478.75,364.55 L479.00,364.60 L479.25,364.65 L479.50,364.70 L479.75,364.75 L480.00,364.80 L480.25,364.85 L480.50,364.89 L480.75,364.94 L481.00,364.99 L481.25,365.04 L481.50,365.08 L481.75,365.13 L482.00,365.18 L482.25,365.22 L482.50,365.27 L482.75,365.32 L483.00,365.37 L483.25,365.41 L483.50,365.46 L483.75,365.51 L484.00,365.55 L484.25,365.60 L484.50,365.65 L484.75,365.69 L485.00,365.74 L485.25,365.79 L485.50,365.83 L485.75,365.88 L486.00,365.93 L486.25,365.97 L486.50,366.02 L486.75,366.07 L487.00,366.11 L487.25,366.16 L487.50,366.21 L487.75,366.25 L488.00,366.30 L488.25,366.35 L488.50,366.39 L488.75,366.44 L489.00,366.48 L489.25,366.53 L489.50,366.58 L489.75,366.62 L490.00,366.67 L490.25,366.71 L490.50,366.76 L490.75,366.81 L491.00,366.85 L491.25,366.90 L491.50,366.94 L491.75,366.99 L492.00,367.03 L492.25,367.08 L492.50,367.13 L492.75,367.17 L493.00,367.22 L493.25,367.26 L493.50,367.31 L493.75,367.35 L494.00,367.40 L494.25,367.44 L494.50,367.49 L494.75,367.53 L495.00,367.58 L495.25,367.62 L495.50,367.67 L495.75,367.71 L496.00,367.76 L496.25,367.80 L496.50,367.85 L496.75,367.89 L497.00,367.94 L497.25,367.98 L497.50,368.03 L497.75,368.07 L498.00,368.12 L498.25,368.16 L498.50,368.20 L498.75,368.25 L499.00,368.29 L499.25,368.34 L499.50,368.38 L499.75,368.42 L500.00,368.47 L500.25,368.51 L500.50,368.56 L500.75,368.60 L501.00,368.64 L501.25,368.69 L501.50,368.73 L501.75,368.78 L502.00,368.82 L502.25,368.86 L502.50,368.91 L502.75,368.95 L503.00,368.99 L503.25,369.03 L503.50,369.08 L503.75,369.12 L504.00,369.16 L504.25,369.21 L504.50,369.25 L504.75,369.29 L505.00,369.34 L505.25,369.38 L505.50,369.42 L505.75,369.46 L506.00,369.51 L506.25,369.55 L506.50,369.59 L506.75,369.63 L507.00,369.67 L507.25,369.72 L507.50,369.76 L507.75,369.80 L508.00,369.84 L508.25,369.88 L508.50,369.93 L508.75,369.97 L509.00,370.01 L509.25,370.05 L509.50,370.09 L509.75,370.13 L510.00,370.17 L510.25,370.22 L510.50,370.26 L510.75,370.30 L511.00,370.34 L511.25,370.38 L511.50,370.42 L511.75,370.46 L512.00,370.50 L512.25,370.54 L512.50,370.58 L512.75,370.62 L513.00,370.66 L513.25,370.70 L513.50,370.74 L513.75,370.78 L514.00,370.82 L514.25,370.86 L514.50,370.90 L514.75,370.94 L515.00,370.98 L515.25,371.02 L515.50,371.06 L515.75,371.10 L516.00,371.14 L516.25,371.18 L516.50,371.22 L516.75,371.26 L517.00,371.30 L517.25,371.34 L517.50,371.37 L517.75,371.41 L518.00,371.45 L518.25,371.49 L518.50,371.53 L518.75,371.57 L519.00,371.61 L519.25,371.64 L519.50,371.68 L519.75,371.72 L520.00,371.76 L520.25,371.80 L520.50,371.83 L520.75,371.87 L521.00,371.91 L521.25,371.95 L521.50,371.98 L521.75,372.02 L522.00,372.06 L522.25,372.09 L522.50,372.13 L522.75,372.17 L523.00,372.21 L523.25,372.24 L523.50,372.28 L523.75,372.31 L524.00,372.35 L524.25,372.39 L524.50,372.42 L524.75,372.46 L525.00,372.50 L525.25,372.53 L525.50,372.57 L525.75,372.60 L526.00,372.64 L526.25,372.67 L526.50,372.71 L526.75,372.74 L527.00,372.78 L527.25,372.81 L527.50,372.85 L527.75,372.88 L528.00,372.92 L528.25,372.95 L528.50,372.99 L528.75,373.02 L529.00,373.06 L529.25,373.09 L529.50,373.12 L529.75,373.16 L530.00,373.19 L530.25,373.23 L530.50,373.26 L530.75,373.29 L531.00,373.33 L531.25,373.36 L531.50,373.39 L531.75,373.43 L532.00,373.46 L532.25,373.49 L532.50,373.52 L532.75,373.56 L533.00,373.59 L533.25,373.62 L533.50,373.65 L533.75,373.69 L534.00,373.72 L534.25,373.75 L534.50,373.78 L534.75,373.81 L535.00,373.85 L535.25,373.88 L535.50,373.91 L535.75,373.94 L536.00,373.97 L536.25,374.00 L536.50,374.03 L536.75,374.06 L537.00,374.09 L537.25,374.12 L537.50,374.15 L537.75,374.19 L538.00,374.22 L538.25,374.25 L538.50,374.28 L538.75,374.30 L539.00,374.33 L539.25,374.36 L539.50,374.39 L539.75,374.42 L540.00,374.45 L540.25,374.48 L540.50,374.51 L540.75,374.54 L541.00,374.57 L541.25,374.60 L541.50,374.62 L541.75,374.65 L542.00,374.68 L542.25,374.71 L542.50,374.74 L542.75,374.76 L543.00,374.79 L543.25,374.82 L543.50,374.85 L543.75,374.87 L544.00,374.90" fill="none" stroke="#FF0000" stroke-width="1.5" stroke-linejoin="round"/>
<path d="M319.00,380.30 L319.25,380.33 L319.50,380.35 L319.75,380.38 L320.00,380.41 L320.25,380.43 L320.50,380.46 L320.75,380.48 L321.00,380.51 L321.25,380.54 L321.50,380.56 L321.75,380.59 L322.00,380.62 L322.25,380.64 L322.50,380.67 L322.75,380.69 L323.00,380.72 L323.25,380.75 L323.50,380.77 L323.75,380.80 L324.00,380.82 L324.25,380.85 L324.50,380.87 L324.75,380.90 L325.00,380.93 L325.25,380.95 L325.50,380.98 L325.75,381.00 L326.00,381.03 L326.25,381.05 L326.50,381.08 L326.75,381.10 L327.00,381.13 L327.25,381.16 L327.50,381.18 L327.75,381.21 L328.00,381.23 L328.25,381.26 L328.50,381.28 L328.75,381.31 L329.00,381.33 L329.25,381.36 L329.50,381.38 L329.75,381.41 L330.00,381.43 L330.25,381.46 L330.50,381.48 L330.75,381.51 L331.00,381.53 L331.25,381.56 L331.50,381.58 L331.75,381.61 L332.00,381.63 L332.25,381.65 L332.50,381.68 L332.75,381.70 L333.00,381.73 L333.25,381.75 L333.50,381.78 L333.75,381.80 L334.00,381.83 L334.25,381.85 L334.50,381.87 L334.75,381.90 L335.00,381.92 L335.25,381.95 L335.50,381.97 L335.75,381.99 L336.00,382.02 L336.25,382.04 L336.50,382.07 L336.75,382.09 L337.00,382.11 L337.25,382.14 L337.50,382.16 L337.75,382.19 L338.00,382.21 L338.25,382.23 L338.50,382.26 L338.75,382.28 L339.00,382.30 L339.25,382.33 L339.50,382.35 L339.75,382.37 L340.00,382.40 L340.25,382.42 L340.50,382.44 L340.75,382.47 L341.00,382.49 L341.25,382.51 L341.50,382.54 L341.75,382.56 L342.00,382.58 L342.25,382.61 L342.50,382.63 L342.75,382.65 L343.00,382.68 L343.25,382.70 L343.50,382.72 L343.75,382.74 L344.00,382.77 L344.25,382.79 L344.50,382.81 L344.75,382.83 L345.00,382.86 L345.25,382.88 L345.50,382.90 L345.75,382.92 L346.00,382.95 L346.25,382.97 L346.50,382.99 L346.75,383.01 L347.00,383.04 L347.25,383.06 L347.50,383.08 L347.75,383.10 L348.00,383.13 L348.25,383.15 L348.50,383.17 L348.75,383.19 L349.00,383.21 L349.25,383.23 L349.50,383.26 L349.75,383.28 L350.00,383.30 L350.25,383.32 L350.50,383.34 L350.75,383.37 L351.00,383.39 L351.25,383.41 L351.50,383.43 L351.75,383.46 L352.00,383.48 L352.25,383.50 L352.50,383.53 L352.75,383.55 L353.00,383.58 L353.25,383.60 L353.50,383.63 L353.75,383.65 L354.00,383.68 L354.25,383.70 L354.50,383.73 L354.75,383.75 L355.00,383.78 L355.25,383.80 L355.50,383.83 L355.75,383.85 L356.00,383.88 L356.25,383.90 L356.50,383.93 L356.75,383.96 L357.00,383.98 L357.25,384.01 L357.50,384.03 L357.75,384.06 L358.00,384.09 L358.25,384.11 L358.50,384.14 L358.75,384.17 L359.00,384.19 L359.25,384.22 L359.50,384.24 L359.75,384.27 L360.00,384.30 L360.25,384.32 L360.50,384.35 L360.75,384.38 L361.00,384.40 L361.25,384.43 L361.50,384.45 L361.75,384.48 L362.00,384.51 L362.25,384.53 L362.50,384.56 L362.75,384.58 L363.00,384.61 L363.25,384.63 L363.50,384.66 L363.75,384.68 L364.00,384.71 L364.25,384.73 L364.50,384.76 L364.75,384.78 L365.00,384.81 L365.25,384.83 L365.50,384.85 L365.75,384.88 L366.00,384.90 L366.25,384.93 L366.50,384.95 L366.75,384.97 L367.00,384.99 L367.25,385.02 L367.50,385.04 L367.75,385.06 L368.00,385.08 L368.25,385.10 L368.50,385.13 L368.75,385.15 L369.00,385.17 L369.25,385.19 L369.50,385.21 L369.75,385.23 L370.00,385.25 L370.25,385.27 L370.50,385.29 L370.75,385.31 L371.00,385.32 L371.25,385.34 L371.50,385.36 L371.75,385.38 L372.00,385.39 L372.25,385.41 L372.50,385.43 L372.75,385.44 L373.00,385.46 L373.25,385.47 L373.50,385.49 L373.75,385.50 L374.00,385.51 L374.25,385.53 L374.50,385.54 L374.75,385.55 L375.00,385.56 L375.25,385.58 L375.50,385.59 L375.75,385.60 L376.00,385.61 L376.25,385.62 L376.50,385.63 L376.75,385.64 L377.00,385.64 L377.25,385.65 L377.50,385.66 L377.75,385.66 L378.00,385.67 L378.25,385.68 L378.50,385.68 L378.75,385.69 L379.00,385.69 L379.25,385.69 L379.50,385.70 L379.75,385.70 L380.00,385.70 L380.25,385.70 L380.50,385.70 L380.75,385.70 L381.00,385.69 L381.25,385.68 L381.50,385.66 L381.75,385.64 L382.00,385.61 L382.25,385.58 L382.50,385.54 L382.75,385.50 L383.00,385.46 L383.25,385.42 L383.50,385.37 L383.75,385.32 L384.00,385.27 L384.25,385.21 L384.50,385.16 L384.75,385.10 L385.00,385.04 L385.25,384.98 L385.50,384.92 L385.75,384.86 L386.00,384.80 L386.25,384.73 L386.50,384.66 L386.75,384.58 L387.00,384.49 L387.25,384.40 L387.50,384.30 L387.75,384.19 L388.00,384.08 L388.25,383.96 L388.50,383.84 L388.75,383.71 L389.00,383.58 L389.25,383.45 L389.50,383.32 L389.75,383.18 L390.00,383.05 L390.25,382.91 L390.50,382.77 L390.75,382.64 L391.00,382.50 L391.25,382.36 L391.50,382.20 L391.75,382.04 L392.00,381.86 L392.25,381.68 L392.50,381.49 L392.75,381.30 L393.00,381.10 L393.25,380.91 L393.50,380.71 L393.75,380.52 L394.00,380.33 L394.25,380.15 L394.50,379.98 L394.75,379.81 L395.00,379.66 L395.25,379.52 L395.50,379.40 L395.75,379.29 L396.00,379.20 L396.25,379.12 L396.50,379.04 L396.75,378.96 L397.00,378.88 L397.25,378.81 L397.50,378.73 L397.75,378.66 L398.00,378.59 L398.25,378.53 L398.50,378.47 L398.75,378.41 L399.00,378.35 L399.25,378.30 L399.50,378.26 L399.75,378.22 L400.00,378.18 L400.25,378.15 L400.50,378.13 L400.75,378.11 L401.00,378.10 L401.25,378.10 L401.50,378.12 L401.75,378.15 L402.00,378.21 L402.25,378.28 L402.50,378.37 L402.75,378.48 L403.00,378.60 L403.25,378.73 L403.50,378.87 L403.75,379.02 L404.00,379.17 L404.25,379.33 L404.50,379.50 L404.75,379.67 L405.00,379.84 L405.25,380.01 L405.50,380.18 L405.75,380.34 L406.00,380.50 L406.25,380.66 L406.50,380.84 L406.75,381.03 L407.00,381.23 L407.25,381.44 L407.50,381.66 L407.75,381.89 L408.00,382.12 L408.25,382.36 L408.50,382.61 L408.75,382.86 L409.00,383.11 L409.25,383.37 L409.50,383.62 L409.75,383.88 L410.00,384.13 L410.25,384.38 L410.50,384.63 L410.75,384.87 L411.00,385.11 L411.25,385.34 L411.50,385.56 L411.75,385.78 L412.00,385.98 L412.25,386.18 L412.50,386.36 L412.75,386.53 L413.00,386.69 L413.25,386.83 L413.50,386.96 L413.75,387.09 L414.00,387.22 L414.25,387.35 L414.50,387.47 L414.75,387.59 L415.00,387.71 L415.25,387.82 L415.50,387.93 L415.75,388.04 L416.00,388.15 L416.25,388.25 L416.50,388.35 L416.75,388.45 L417.00,388.54 L417.25,388.64 L417.50,388.73 L417.75,388.82 L418.00,388.90 L418.25,388.98 L418.50,389.07 L418.75,389.14 L419.00,389.22 L419.25,389.29 L419.50,389.36 L419.75,389.43 L420.00,389.50 L420.25,389.57 L420.50,389.63 L420.75,389.70 L421.00,389.76 L421.25,389.83 L421.50,389.90 L421.75,389.96 L422.00,390.03 L422.25,390.10 L422.50,390.16 L422.75,390.23 L423.00,390.29 L423.25,390.36 L423.50,390.42 L423.75,390.48 L424.00,390.55 L424.25,390.61 L424.50,390.67 L424.75,390.73 L425.00,390.79 L425.25,390.84 L425.50,390.90 L425.75,390.95 L426.00,391.01 L426.25,391.06 L426.50,391.11 L426.75,391.16 L427.00,391.21 L427.25,391.25 L427.50,391.30 L427.75,391.34 L428.00,391.38 L428.25,391.42 L428.50,391.45 L428.75,391.49 L429.00,391.52 L429.25,391.55 L429.50,391.58 L429.75,391.60 L430.00,391.62 L430.25,391.64 L430.50,391.66 L430.75,391.67 L431.00,391.68 L431.25,391.69 L431.50,391.70 L431.75,391.70 L432.00,391.70 L432.25,391.70 L432.50,391.70 L432.75,391.70 L433.00,391.70 L433.25,391.69 L433.50,391.69 L433.75,391.69 L434.00,391.69 L434.25,391.68 L434.50,391.68 L434.75,391.67 L435.00,391.67 L435.25,391.67 L435.50,391.66 L435.75,391.65 L436.00,391.65 L436.25,391.64 L436.50,391.64 L436.75,391.63 L437.00,391.62 L437.25,391.61 L437.50,391.61 L437.75,391.60 L438.00,391.59 L438.25,391.58 L438.50,391.57 L438.75,391.56 L439.00,391.55 L439.25,391.54 L439.50,391.53 L439.75,391.52 L440.00,391.51 L440.25,391.49 L440.50,391.48 L440.75,391.47 L441.00,391.46 L441.25,391.44 L441.50,391.43 L441.75,391.42 L442.00,391.40 L442.25,391.39 L442.50,391.37 L442.75,391.36 L443.00,391.34 L443.25,391.32 L443.50,391.31 L443.75,391.29 L444.00,391.26 L444.25,391.23 L444.50,391.18 L444.75,391.14 L445.00,391.08 L445.25,391.02 L445.50,390.96 L445.75,390.89 L446.00,390.82 L446.25,390.74 L446.50,390.66 L446.75,390.59 L447.00,390.51 L447.25,390.43 L447.50,390.35 L447.75,390.27 L448.00,390.20 L448.25,390.12 L448.50,390.03 L448.75,389.94 L449.00,389.83 L449.25,389.72 L449.50,389.61 L449.75,389.49 L450.00,389.37 L450.25,389.25 L450.50,389.14 L450.75,389.02 L451.00,388.92 L451.25,388.81 L451.50,388.72 L451.75,388.64 L452.00,388.56 L452.25,388.50 L452.50,388.45 L452.75,388.42 L453.00,388.40 L453.25,388.41 L453.50,388.49 L453.75,388.63 L454.00,388.83 L454.25,389.06 L454.50,389.33 L454.75,389.61 L455.00,389.91 L455.25,390.21 L455.50,390.50 L455.75,390.81 L456.00,391.19 L456.25,391.60 L456.50,392.04 L456.75,392.49 L457.00,392.95 L457.25,393.39 L457.50,393.81 L457.75,394.18 L458.00,394.50 L458.25,394.79 L458.50,395.08 L458.75,395.36 L459.00,395.62 L459.25,395.87 L459.50,396.09 L459.75,396.27 L460.00,396.42 L460.25,396.52 L460.50,396.60 L460.75,396.68 L461.00,396.75 L461.25,396.82 L461.50,396.89 L461.75,396.95 L462.00,397.01 L462.25,397.07 L462.50,397.12 L462.75,397.18 L463.00,397.22 L463.25,397.27 L463.50,397.32 L463.75,397.36 L464.00,397.40 L464.25,397.44 L464.50,397.47 L464.75,397.51 L465.00,397.54 L465.25,397.58 L465.50,397.61 L465.75,397.64 L466.00,397.67 L466.25,397.70 L466.50,397.73 L466.75,397.76 L467.00,397.79 L467.25,397.82 L467.50,397.85 L467.75,397.88 L468.00,397.91 L468.25,397.94 L468.50,397.97 L468.75,398.01 L469.00,398.04 L469.25,398.08 L469.50,398.12 L469.75,398.16 L470.00,398.20 L470.25,398.24 L470.50,398.29 L470.75,398.33 L471.00,398.37 L471.25,398.41 L471.50,398.46 L471.75,398.50 L472.00,398.54 L472.25,398.59 L472.50,398.63 L472.75,398.67 L473.00,398.72 L473.25,398.76 L473.50,398.80 L473.75,398.84 L474.00,398.89 L474.25,398.93 L474.50,398.97 L474.75,399.02 L475.00,399.06 L475.25,399.10 L475.50,399.14 L475.75,399.19 L476.00,399.23 L476.25,399.27 L476.50,399.32 L476.75,399.36 L477.00,399.40 L477.25,399.44 L477.50,399.49 L477.75,399.53 L478.00,399.57 L478.25,399.62 L478.50,399.66 L478.75,399.70 L479.00,399.74 L479.25,399.79 L479.50,399.83 L479.75,399.87 L480.00,399.92 L480.25,399.96 L480.50,400.00 L480.75,400.04 L481.00,400.09 L481.25,400.13 L481.50,400.17 L481.75,400.21 L482.00,400.26 L482.25,400.30 L482.50,400.34 L482.75,400.39 L483.00,400.43 L483.25,400.47 L483.50,400.51 L483.75,400.56 L484.00,400.60 L484.25,400.64 L484.50,400.69 L484.75,400.73 L485.00,400.77 L485.25,400.81 L485.50,400.86 L485.75,400.90 L486.00,400.94 L486.25,400.98 L486.50,401.03 L486.75,401.07 L487.00,401.11 L487.25,401.15 L487.50,401.20 L487.75,401.24 L488.00,401.28 L488.25,401.33 L488.50,401.37 L488.75,401.41 L489.00,401.45 L489.25,401.50 L489.50,401.54 L489.75,401.58 L490.00,401.62 L490.25,401.67 L490.50,401.71 L490.75,401.75 L491.00,401.79 L491.25,401.84 L491.50,401.88 L491.75,401.92 L492.00,401.97 L492.25,402.01 L492.50,402.05 L492.75,402.09 L493.00,402.14 L493.25,402.18 L493.50,402.22 L493.75,402.26 L494.00,402.31 L494.25,402.35 L494.50,402.39 L494.75,402.43 L495.00,402.48 L495.25,402.52 L495.50,402.56 L495.75,402.60 L496.00,402.65 L496.25,402.69 L496.50,402.73 L496.75,402.77 L497.00,402.82 L497.25,402.86 L497.50,402.90 L497.75,402.94 L498.00,402.99 L498.25,403.03 L498.50,403.07 L498.75,403.11 L499.00,403.16 L499.25,403.20 L499.50,403.24 L499.75,403.28 L500.00,403.33 L500.25,403.37 L500.50,403.41 L500.75,403.45 L501.00,403.50 L501.25,403.54 L501.50,403.58 L501.75,403.62 L502.00,403.67 L502.25,403.71 L502.50,403.75 L502.75,403.79 L503.00,403.84 L503.25,403.88 L503.50,403.92 L503.75,403.96 L504.00,404.01 L504.25,404.05 L504.50,404.09 L504.75,404.13 L505.00,404.17 L505.25,404.22 L505.50,404.26 L505.75,404.30 L506.00,404.34 L506.25,404.39 L506.50,404.43 L506.75,404.47 L507.00,404.51 L507.25,404.56 L507.50,404.60 L507.75,404.64 L508.00,404.68 L508.25,404.72 L508.50,404.77 L508.75,404.81 L509.00,404.85 L509.25,404.89 L509.50,404.94 L509.75,404.98 L510.00,405.02 L510.25,405.06 L510.50,405.11 L510.75,405.15 L511.00,405.19 L511.25,405.23 L511.50,405.27 L511.75,405.32 L512.00,405.36 L512.25,405.40 L512.50,405.44 L512.75,405.48 L513.00,405.53 L513.25,405.57 L513.50,405.61 L513.75,405.65 L514.00,405.70 L514.25,405.74 L514.50,405.78 L514.75,405.82 L515.00,405.86 L515.25,405.91 L515.50,405.95 L515.75,405.99 L516.00,406.03 L516.25,406.07 L516.50,406.12 L516.75,406.16 L517.00,406.20 L517.25,406.24 L517.50,406.28 L517.75,406.33 L518.00,406.37 L518.25,406.41 L518.50,406.45 L518.75,406.49 L519.00,406.54 L519.25,406.58 L519.50,406.62 L519.75,406.66 L520.00,406.70 L520.25,406.75 L520.50,406.79 L520.75,406.83 L521.00,406.87 L521.25,406.91 L521.50,406.96 L521.75,407.00 L522.00,407.04 L522.25,407.08 L522.50,407.12 L522.75,407.17 L523.00,407.21 L523.25,407.25 L523.50,407.29 L523.75,407.33 L524.00,407.38 L524.25,407.42 L524.50,407.46 L524.75,407.50 L525.00,407.54 L525.25,407.58 L525.50,407.63 L525.75,407.67 L526.00,407.71 L526.25,407.75 L526.50,407.79 L526.75,407.84 L527.00,407.88 L527.25,407.92 L527.50,407.96 L527.75,408.00 L528.00,408.04 L528.25,408.09 L528.50,408.13 L528.75,408.17 L529.00,408.21 L529.25,408.25 L529.50,408.29 L529.75,408.34 L530.00,408.38 L530.25,408.42 L530.50,408.46 L530.75,408.50 L531.00,408.54 L531.25,408.59 L531.50,408.63 L531.75,408.67 L532.00,408.71 L532.25,408.75 L532.50,408.79 L532.75,408.84 L533.00,408.88 L533.25,408.92 L533.50,408.96 L533.75,409.00 L534.00,409.04 L534.25,409.09 L534.50,409.13 L534.75,409.17 L535.00,409.21 L535.25,409.25 L535.50,409.29 L535.75,409.33 L536.00,409.38 L536.25,409.42 L536.50,409.46 L536.75,409.50 L537.00,409.54 L537.25,409.58 L537.50,409.63 L537.75,409.67 L538.00,409.71 L538.25,409.75 L538.50,409.79 L538.75,409.83 L539.00,409.87 L539.25,409.92 L539.50,409.96 L539.75,410.00 L540.00,410.04 L540.25,410.08 L540.50,410.12 L540.75,410.16 L541.00,410.20 L541.25,410.25 L541.50,410.29 L541.75,410.33 L542.00,410.37 L542.25,410.41 L542.50,410.45 L542.75,410.49 L543.00,410.54 L543.25,410.58 L543.50,410.62 L543.75,410.66 L544.00,410.70" fill="none" stroke="#0000FF" stroke-width="1.5" stroke-linejoin="round"/>
<rect x="318.5" y="235.2" width="225.79999999999995" height="181.90000000000003" fill="none" stroke="#000" stroke-width="1.6"/>
<text x="323.20" y="249.60" font-size="9.5" text-anchor="start" >Exothermic</text>
<text x="510.80" y="258.80" font-size="18.3" text-anchor="start" >(c)</text>
<text x="321.50" y="303.50" font-size="7.8" text-anchor="start" >Al-12Si alloy</text>
<text x="321.50" y="337.30" font-size="7.8" text-anchor="start" >Al-12Si@Al<tspan font-size="7.4" dy="1.8">2</tspan><tspan dy="-1.8">O</tspan><tspan font-size="7.4" dy="1.8">3</tspan><tspan dy="-1.8">,120&#176;C</tspan></text>
<text x="321.50" y="374.80" font-size="7.8" text-anchor="start" >Al-12Si@Al<tspan font-size="7.4" dy="1.8">2</tspan><tspan dy="-1.8">O</tspan><tspan font-size="7.4" dy="1.8">3</tspan><tspan dy="-1.8">,120&#176;C,after 30 cycles</tspan></text>
<text x="432.20" y="448.20" font-size="15.3" text-anchor="middle" >Temperature (&#176;C)</text>
<text transform="translate(289.9,393.3) rotate(-90)" font-size="15.3">Heat Flow (mW/mg)</text>
</svg></body></html>
